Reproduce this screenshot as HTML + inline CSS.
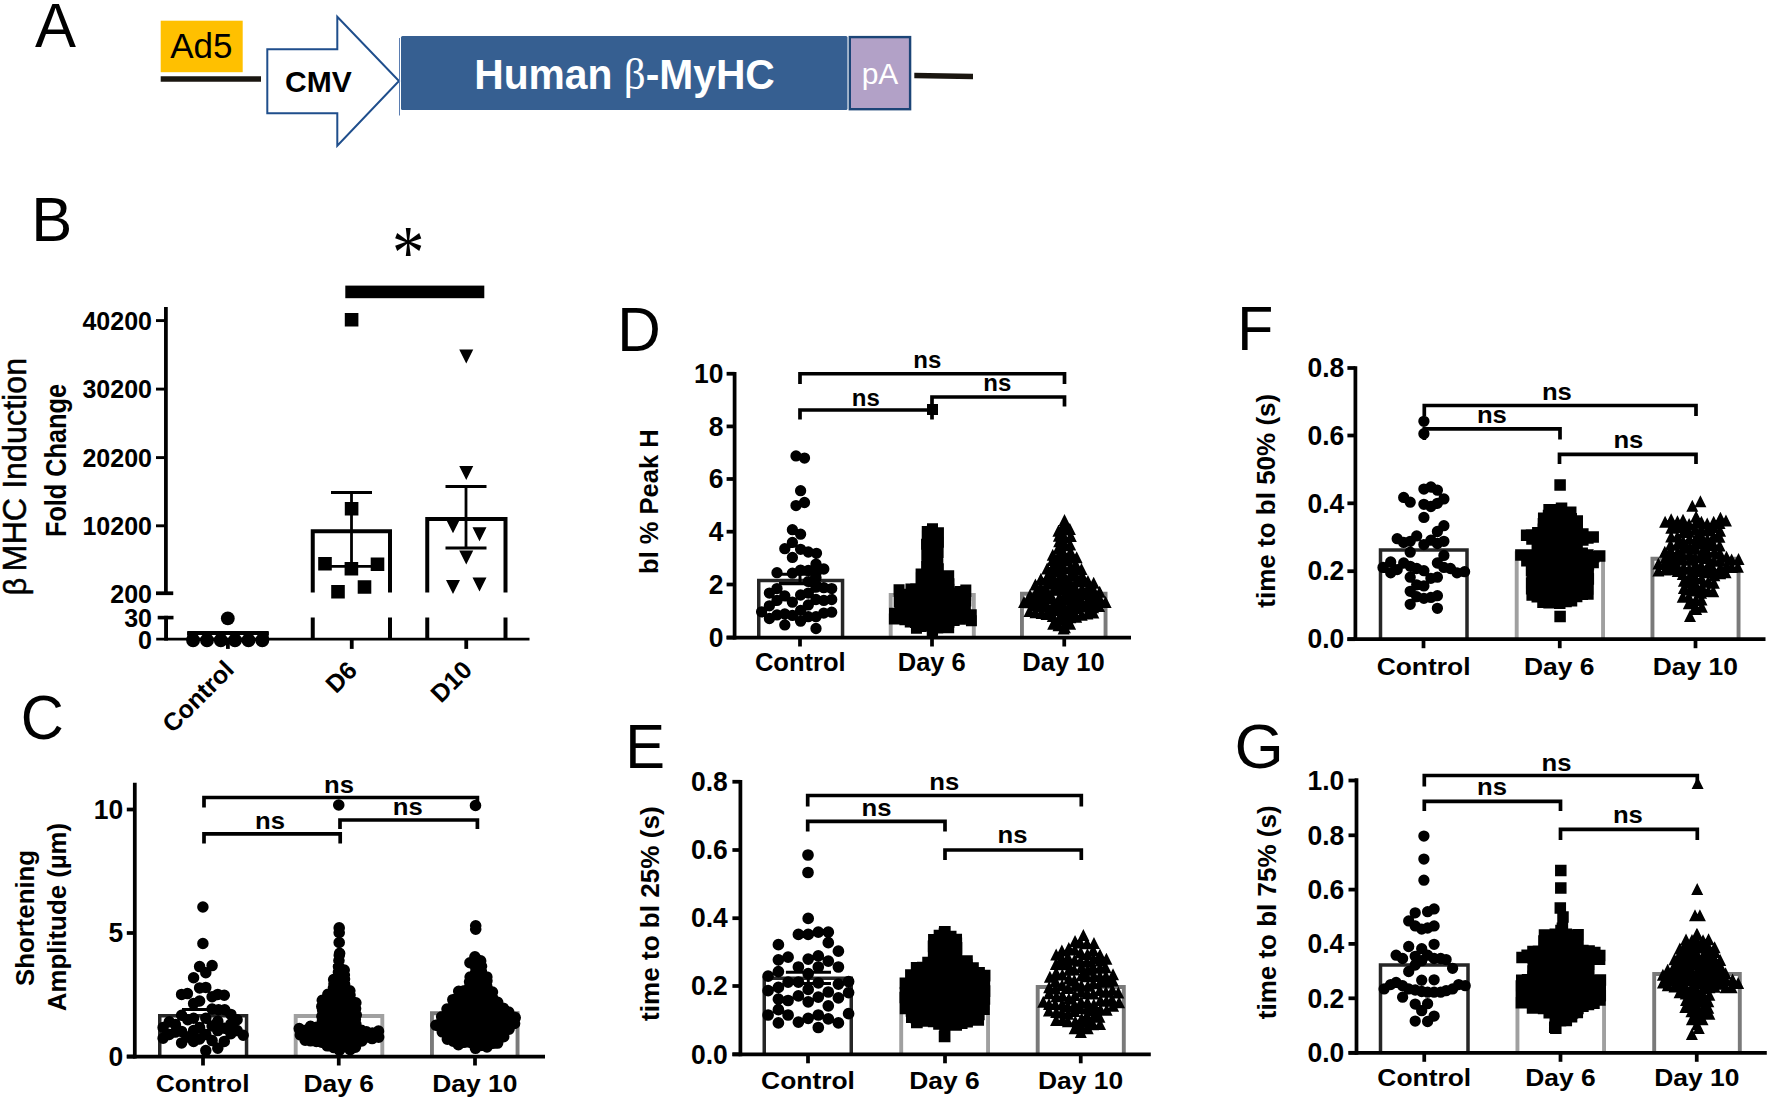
<!DOCTYPE html>
<html lang="en"><head><meta charset="utf-8"><title>Figure</title>
<style>html,body{margin:0;padding:0;background:#fff}svg{display:block}</style></head>
<body>
<svg width="1770" height="1103" viewBox="0 0 1770 1103" font-family="'Liberation Sans', Arial, sans-serif" fill="#000">
<rect x="0" y="0" width="1770" height="1103" fill="#fff"/>
<text x="0" y="0" font-size="61.5" transform="translate(35 47.2) scale(1.0000 1.0350)">A</text>
<text x="0" y="0" font-size="61.5" transform="translate(31.3 241.3) scale(1.0000 1.0350)">B</text>
<text x="0" y="0" font-size="61.5" transform="translate(20.7 739.3) scale(0.9700 1.0350)">C</text>
<text x="0" y="0" font-size="61.5" transform="translate(617.2 350.75) scale(0.9800 1.0350)">D</text>
<text x="0" y="0" font-size="61.5" transform="translate(625.2 768.25) scale(0.9700 1.0350)">E</text>
<text x="0" y="0" font-size="61.5" transform="translate(1237.2 350) scale(0.9600 1.0350)">F</text>
<text x="0" y="0" font-size="61.5" transform="translate(1234.5 767.5) scale(1.0300 1.0350)">G</text>
<rect x="160.7" y="20.7" width="82" height="51.5" fill="#FFC000"/>
<text x="201.3" y="58.3" font-size="35" text-anchor="middle">Ad5</text>
<line x1="160.7" y1="79" x2="261" y2="79" stroke="#1a1610" stroke-width="5.6"/>
<path d="M267.3 49.3H337.3V16.7L399 81L337.3 145.7V113.3H267.3Z" fill="#fff" stroke="#1F4E8C" stroke-width="2" stroke-linejoin="miter"/>
<text x="318.4" y="91.7" font-size="30" font-weight="bold" text-anchor="middle">CMV</text>
<line x1="399.5" y1="38" x2="399.5" y2="115.5" stroke="#5b7db1" stroke-width="1"/>
<rect x="401" y="36" width="446.5" height="74" rx="1.5" fill="#365F91"/>
<rect x="849.8" y="37.1" width="60.3" height="72.1" fill="#B2A1C7" stroke="#1c4577" stroke-width="2.4"/>
<text x="0" y="0" font-size="40.8" font-weight="bold" text-anchor="middle" fill="#fff" transform="translate(624.5 89.3) scale(1.0000 1.0300)">Human <tspan font-family="'Liberation Serif', serif" font-weight="normal" font-size="43">β</tspan>-MyHC</text>
<text x="880" y="83.9" font-size="30" text-anchor="middle" fill="#fff">pA</text>
<path d="M914.3 72.8L973 73.7V79.2L914.3 78.3Z" fill="#1a1610"/>
<line x1="165.9" y1="307" x2="165.9" y2="595.1" stroke="#000" stroke-width="3.75"/>
<line x1="156" y1="320.6" x2="165.9" y2="320.6" stroke="#000" stroke-width="2.9"/>
<text x="152" y="329.7" font-size="25" font-weight="bold" text-anchor="end">40200</text>
<line x1="156" y1="389.1" x2="165.9" y2="389.1" stroke="#000" stroke-width="2.9"/>
<text x="152" y="398.2" font-size="25" font-weight="bold" text-anchor="end">30200</text>
<line x1="156" y1="457.6" x2="165.9" y2="457.6" stroke="#000" stroke-width="2.9"/>
<text x="152" y="466.7" font-size="25" font-weight="bold" text-anchor="end">20200</text>
<line x1="156" y1="525.8" x2="165.9" y2="525.8" stroke="#000" stroke-width="2.9"/>
<text x="152" y="534.9" font-size="25" font-weight="bold" text-anchor="end">10200</text>
<line x1="156" y1="593.25" x2="173.25" y2="593.25" stroke="#000" stroke-width="3.75"/>
<text x="152" y="602.95" font-size="25" font-weight="bold" text-anchor="end">200</text>
<line x1="166.05" y1="615.8" x2="166.05" y2="640.6" stroke="#000" stroke-width="3.9"/>
<line x1="157.7" y1="617.6" x2="173.5" y2="617.6" stroke="#000" stroke-width="3.6"/>
<text x="152" y="627.4" font-size="25" font-weight="bold" text-anchor="end">30</text>
<line x1="156.2" y1="639.2" x2="529.5" y2="639.2" stroke="#000" stroke-width="2.8"/>
<text x="152" y="648.7" font-size="25" font-weight="bold" text-anchor="end">0</text>
<text x="26.3" y="595.2" font-size="30.5" transform="rotate(-90 26.3 595.2)" stroke="#000" stroke-width="0.5">β</text>
<text x="26.3" y="357.8" font-size="32.3" text-anchor="end" transform="rotate(-90 26.3 357.8)" stroke="#000" stroke-width="0.5">MHC Induction</text>
<text x="0" y="0" font-size="25.3" font-weight="bold" text-anchor="middle" transform="translate(65.5 460.5) rotate(-90) scale(1.0000 1.1400)">Fold Change</text>
<line x1="227.9" y1="639.2" x2="227.9" y2="648.9" stroke="#000" stroke-width="3.8"/>
<text x="235.5" y="671.2" font-size="25" font-weight="bold" text-anchor="end" transform="rotate(-45 235.5 671.2)">Control</text>
<line x1="351.75" y1="639.2" x2="351.75" y2="648.9" stroke="#000" stroke-width="3.8"/>
<text x="358.5" y="672" font-size="25" font-weight="bold" text-anchor="end" transform="rotate(-45 358.5 672)">D6</text>
<line x1="466.25" y1="639.2" x2="466.25" y2="648.9" stroke="#000" stroke-width="3.8"/>
<text x="473.5" y="671.5" font-size="25" font-weight="bold" text-anchor="end" transform="rotate(-45 473.5 671.5)">D10</text>
<line x1="187.2" y1="633" x2="268.7" y2="633" stroke="#000" stroke-width="4"/>
<line x1="188.2" y1="632" x2="188.2" y2="639" stroke="#000" stroke-width="2"/>
<line x1="267.7" y1="632" x2="267.7" y2="639" stroke="#000" stroke-width="2"/>
<path d="M186.1 640.3a7 7 0 1 0 14 0a7 7 0 1 0 -14 0zM200 640.3a7 7 0 1 0 14 0a7 7 0 1 0 -14 0zM213.8 640.3a7 7 0 1 0 14 0a7 7 0 1 0 -14 0zM228 640.3a7 7 0 1 0 14 0a7 7 0 1 0 -14 0zM241.5 640.3a7 7 0 1 0 14 0a7 7 0 1 0 -14 0zM255.3 640.3a7 7 0 1 0 14 0a7 7 0 1 0 -14 0z" fill="#000"/>
<path d="M220.9 618.4a6.9 6.9 0 1 0 13.8 0a6.9 6.9 0 1 0 -13.8 0z" fill="#000"/>
<path d="M312.75 592.5V531.25H390V592.5" fill="none" stroke="#000" stroke-width="4" stroke-linejoin="miter"/>
<line x1="312.75" y1="617.5" x2="312.75" y2="639.2" stroke="#000" stroke-width="4"/>
<line x1="390" y1="617.5" x2="390" y2="639.2" stroke="#000" stroke-width="4"/>
<path d="M427.25 592.5V519H505.5V592.5" fill="none" stroke="#000" stroke-width="4" stroke-linejoin="miter"/>
<line x1="427.25" y1="617.5" x2="427.25" y2="639.2" stroke="#000" stroke-width="4"/>
<line x1="505.5" y1="617.5" x2="505.5" y2="639.2" stroke="#000" stroke-width="4"/>
<line x1="351.5" y1="492.5" x2="351.5" y2="566.3" stroke="#000" stroke-width="2.8"/>
<line x1="331" y1="492.5" x2="372" y2="492.5" stroke="#000" stroke-width="2.8"/>
<line x1="331" y1="566.3" x2="372" y2="566.3" stroke="#000" stroke-width="2.8"/>
<line x1="466" y1="486.5" x2="466" y2="548" stroke="#000" stroke-width="2.8"/>
<line x1="445.5" y1="486.5" x2="486.5" y2="486.5" stroke="#000" stroke-width="2.8"/>
<line x1="445.5" y1="548" x2="486.5" y2="548" stroke="#000" stroke-width="2.8"/>
<path d="M344.8 312.9h13.6v13.6h-13.6zM344.8 502h13.6v13.6h-13.6zM318.2 557h13.6v13.6h-13.6zM344.6 562h13.6v13.6h-13.6zM370.7 557.5h13.6v13.6h-13.6zM331.2 585h13.6v13.6h-13.6zM357.7 580.2h13.6v13.6h-13.6z" fill="#000"/>
<path d="M459.25 349.6L473.25 349.6L466.25 363.6zM459.25 466L473.25 466L466.25 480zM446 519.3L460 519.3L453 533.3zM472.5 527.3L486.5 527.3L479.5 541.3zM459.25 550.5L473.25 550.5L466.25 564.5zM446 580L460 580L453 594zM472.5 577.5L486.5 577.5L479.5 591.5z" fill="#000"/>
<rect x="345.3" y="285.6" width="139" height="12.6" fill="#000"/>
<text x="0" y="0" font-size="64.75" font-family="'Liberation Serif', serif" transform="translate(392 278.2) scale(1.0000 1.1850)">*</text>
<path d="M159.75 1056.5V1015.75H246.55V1056.5" fill="none" stroke="#262626" stroke-width="3.5" stroke-linejoin="miter"/>
<path d="M295.7 1056.5V1015.95H382.3V1056.5" fill="none" stroke="#a0a0a0" stroke-width="3.9" stroke-linejoin="miter"/>
<path d="M431.95 1056.5V1013.25H517.55V1056.5" fill="none" stroke="#7a7a7a" stroke-width="3.9" stroke-linejoin="miter"/>
<line x1="134.8" y1="782.8" x2="134.8" y2="1058.38" stroke="#000" stroke-width="3.75"/>
<line x1="126.8" y1="1056.5" x2="545" y2="1056.5" stroke="#000" stroke-width="3.75"/>
<line x1="126.8" y1="809.5" x2="134.8" y2="809.5" stroke="#000" stroke-width="3.75"/>
<text x="0" y="0" font-size="27" font-weight="bold" text-anchor="end" transform="translate(123.3 818.77) scale(0.9800 1.0000)">10</text>
<line x1="126.8" y1="933" x2="134.8" y2="933" stroke="#000" stroke-width="3.75"/>
<text x="0" y="0" font-size="27" font-weight="bold" text-anchor="end" transform="translate(123.3 942.27) scale(0.9800 1.0000)">5</text>
<line x1="126.8" y1="1056.5" x2="134.8" y2="1056.5" stroke="#000" stroke-width="3.75"/>
<text x="0" y="0" font-size="27" font-weight="bold" text-anchor="end" transform="translate(123.3 1065.77) scale(0.9800 1.0000)">0</text>
<line x1="203" y1="1056.5" x2="203" y2="1065.5" stroke="#000" stroke-width="3.75"/>
<text x="0" y="0" font-size="24.7" font-weight="bold" text-anchor="middle" transform="translate(202.6 1091.5) scale(1.0700 1.0000)">Control</text>
<line x1="338.75" y1="1056.5" x2="338.75" y2="1065.5" stroke="#000" stroke-width="3.75"/>
<text x="0" y="0" font-size="24.7" font-weight="bold" text-anchor="middle" transform="translate(338.75 1091.5) scale(1.0700 1.0000)">Day 6</text>
<line x1="475" y1="1056.5" x2="475" y2="1065.5" stroke="#000" stroke-width="3.75"/>
<text x="0" y="0" font-size="24.7" font-weight="bold" text-anchor="middle" transform="translate(474.75 1091.5) scale(1.0700 1.0000)">Day 10</text>
<text x="33.9" y="918" font-size="25.8" font-weight="bold" text-anchor="middle" transform="rotate(-90 33.9 918)">Shortening</text>
<text x="65.5" y="917" font-size="25.8" font-weight="bold" text-anchor="middle" transform="rotate(-90 65.5 917)">Amplitude (µm)</text>
<path d="M204 807.5V797.5H477.4V807" fill="none" stroke="#000" stroke-width="3.7" stroke-linejoin="miter"/>
<text x="0" y="0" font-size="24" font-weight="bold" text-anchor="middle" transform="translate(339 792.5) scale(1.0700 1.0000)">ns</text>
<path d="M204 843.5V833.8H340.2V843.5" fill="none" stroke="#000" stroke-width="3.7" stroke-linejoin="miter"/>
<text x="0" y="0" font-size="24" font-weight="bold" text-anchor="middle" transform="translate(270 828.8) scale(1.0700 1.0000)">ns</text>
<path d="M340 829V820H477.4V829" fill="none" stroke="#000" stroke-width="3.7" stroke-linejoin="miter"/>
<text x="0" y="0" font-size="24" font-weight="bold" text-anchor="middle" transform="translate(407.7 814.5) scale(1.0700 1.0000)">ns</text>
<line x1="182" y1="1009.6" x2="224" y2="1009.6" stroke="#000" stroke-width="3"/>
<path d="M197.15 907a5.75 5.75 0 1 0 11.5 0a5.75 5.75 0 1 0 -11.5 0zM197.15 943.5a5.75 5.75 0 1 0 11.5 0a5.75 5.75 0 1 0 -11.5 0zM193.85 966.6a5.75 5.75 0 1 0 11.5 0a5.75 5.75 0 1 0 -11.5 0zM206.35 965.6a5.75 5.75 0 1 0 11.5 0a5.75 5.75 0 1 0 -11.5 0zM200.05 972.8a5.75 5.75 0 1 0 11.5 0a5.75 5.75 0 1 0 -11.5 0zM187.85 977.7a5.75 5.75 0 1 0 11.5 0a5.75 5.75 0 1 0 -11.5 0zM193.85 987.9a5.75 5.75 0 1 0 11.5 0a5.75 5.75 0 1 0 -11.5 0zM200.05 987.4a5.75 5.75 0 1 0 11.5 0a5.75 5.75 0 1 0 -11.5 0zM175.85 994.4a5.75 5.75 0 1 0 11.5 0a5.75 5.75 0 1 0 -11.5 0zM181.65 993.6a5.75 5.75 0 1 0 11.5 0a5.75 5.75 0 1 0 -11.5 0zM206.35 996.7a5.75 5.75 0 1 0 11.5 0a5.75 5.75 0 1 0 -11.5 0zM212.05 994.4a5.75 5.75 0 1 0 11.5 0a5.75 5.75 0 1 0 -11.5 0zM218.55 995.2a5.75 5.75 0 1 0 11.5 0a5.75 5.75 0 1 0 -11.5 0zM187.85 1003.6a5.75 5.75 0 1 0 11.5 0a5.75 5.75 0 1 0 -11.5 0zM193.85 1001a5.75 5.75 0 1 0 11.5 0a5.75 5.75 0 1 0 -11.5 0zM206.35 1009a5.75 5.75 0 1 0 11.5 0a5.75 5.75 0 1 0 -11.5 0zM212.85 1009.8a5.75 5.75 0 1 0 11.5 0a5.75 5.75 0 1 0 -11.5 0zM218.95 1009.8a5.75 5.75 0 1 0 11.5 0a5.75 5.75 0 1 0 -11.5 0zM175.85 1015.2a5.75 5.75 0 1 0 11.5 0a5.75 5.75 0 1 0 -11.5 0zM225.15 1014.4a5.75 5.75 0 1 0 11.5 0a5.75 5.75 0 1 0 -11.5 0zM231.35 1019.8a5.75 5.75 0 1 0 11.5 0a5.75 5.75 0 1 0 -11.5 0zM163.55 1021.7a5.75 5.75 0 1 0 11.5 0a5.75 5.75 0 1 0 -11.5 0zM182.05 1019.8a5.75 5.75 0 1 0 11.5 0a5.75 5.75 0 1 0 -11.5 0zM187.85 1018.3a5.75 5.75 0 1 0 11.5 0a5.75 5.75 0 1 0 -11.5 0zM200.05 1018.3a5.75 5.75 0 1 0 11.5 0a5.75 5.75 0 1 0 -11.5 0zM212.05 1021.3a5.75 5.75 0 1 0 11.5 0a5.75 5.75 0 1 0 -11.5 0zM157.35 1027.5a5.75 5.75 0 1 0 11.5 0a5.75 5.75 0 1 0 -11.5 0zM193.85 1027.5a5.75 5.75 0 1 0 11.5 0a5.75 5.75 0 1 0 -11.5 0zM206.35 1026a5.75 5.75 0 1 0 11.5 0a5.75 5.75 0 1 0 -11.5 0zM218.55 1028.3a5.75 5.75 0 1 0 11.5 0a5.75 5.75 0 1 0 -11.5 0zM231.35 1030.6a5.75 5.75 0 1 0 11.5 0a5.75 5.75 0 1 0 -11.5 0zM169.65 1032.1a5.75 5.75 0 1 0 11.5 0a5.75 5.75 0 1 0 -11.5 0zM175.85 1031.4a5.75 5.75 0 1 0 11.5 0a5.75 5.75 0 1 0 -11.5 0zM187.85 1030.6a5.75 5.75 0 1 0 11.5 0a5.75 5.75 0 1 0 -11.5 0zM212.05 1030.6a5.75 5.75 0 1 0 11.5 0a5.75 5.75 0 1 0 -11.5 0zM225.15 1033.7a5.75 5.75 0 1 0 11.5 0a5.75 5.75 0 1 0 -11.5 0zM237.45 1035.2a5.75 5.75 0 1 0 11.5 0a5.75 5.75 0 1 0 -11.5 0zM157.35 1038.3a5.75 5.75 0 1 0 11.5 0a5.75 5.75 0 1 0 -11.5 0zM193.85 1039a5.75 5.75 0 1 0 11.5 0a5.75 5.75 0 1 0 -11.5 0zM206.35 1040.6a5.75 5.75 0 1 0 11.5 0a5.75 5.75 0 1 0 -11.5 0zM218.55 1041.4a5.75 5.75 0 1 0 11.5 0a5.75 5.75 0 1 0 -11.5 0zM175.85 1042.9a5.75 5.75 0 1 0 11.5 0a5.75 5.75 0 1 0 -11.5 0zM187.85 1041.4a5.75 5.75 0 1 0 11.5 0a5.75 5.75 0 1 0 -11.5 0zM163.55 1034.5a5.75 5.75 0 1 0 11.5 0a5.75 5.75 0 1 0 -11.5 0zM200.05 1034.5a5.75 5.75 0 1 0 11.5 0a5.75 5.75 0 1 0 -11.5 0zM181.85 1037a5.75 5.75 0 1 0 11.5 0a5.75 5.75 0 1 0 -11.5 0zM225.15 1024a5.75 5.75 0 1 0 11.5 0a5.75 5.75 0 1 0 -11.5 0zM169.65 1024.5a5.75 5.75 0 1 0 11.5 0a5.75 5.75 0 1 0 -11.5 0zM212.05 1048.3a5.75 5.75 0 1 0 11.5 0a5.75 5.75 0 1 0 -11.5 0zM200.05 1050.6a5.75 5.75 0 1 0 11.5 0a5.75 5.75 0 1 0 -11.5 0z" fill="#000"/>
<path d="M332.95 805a5.8 5.8 0 1 0 11.6 0a5.8 5.8 0 1 0 -11.6 0zM333.4 927.9a5.8 5.8 0 1 0 11.6 0a5.8 5.8 0 1 0 -11.6 0zM333.4 932.7a5.8 5.8 0 1 0 11.6 0a5.8 5.8 0 1 0 -11.6 0zM333.4 942.5a5.8 5.8 0 1 0 11.6 0a5.8 5.8 0 1 0 -11.6 0zM293.45 1028.53a5.8 5.8 0 1 0 11.6 0a5.8 5.8 0 1 0 -11.6 0zM294.56 1034.98a5.8 5.8 0 1 0 11.6 0a5.8 5.8 0 1 0 -11.6 0zM300.01 1030.4a5.8 5.8 0 1 0 11.6 0a5.8 5.8 0 1 0 -11.6 0zM299.38 1036.02a5.8 5.8 0 1 0 11.6 0a5.8 5.8 0 1 0 -11.6 0zM299.35 1040.21a5.8 5.8 0 1 0 11.6 0a5.8 5.8 0 1 0 -11.6 0zM304.7 1026.27a5.8 5.8 0 1 0 11.6 0a5.8 5.8 0 1 0 -11.6 0zM305.76 1030.76a5.8 5.8 0 1 0 11.6 0a5.8 5.8 0 1 0 -11.6 0zM304.74 1036.54a5.8 5.8 0 1 0 11.6 0a5.8 5.8 0 1 0 -11.6 0zM304.72 1040.78a5.8 5.8 0 1 0 11.6 0a5.8 5.8 0 1 0 -11.6 0zM310.67 1027.38a5.8 5.8 0 1 0 11.6 0a5.8 5.8 0 1 0 -11.6 0zM310.97 1033.45a5.8 5.8 0 1 0 11.6 0a5.8 5.8 0 1 0 -11.6 0zM311.39 1037.25a5.8 5.8 0 1 0 11.6 0a5.8 5.8 0 1 0 -11.6 0zM310.51 1041.39a5.8 5.8 0 1 0 11.6 0a5.8 5.8 0 1 0 -11.6 0zM316.49 1000.36a5.8 5.8 0 1 0 11.6 0a5.8 5.8 0 1 0 -11.6 0zM316.02 1006.46a5.8 5.8 0 1 0 11.6 0a5.8 5.8 0 1 0 -11.6 0zM316.89 1010.42a5.8 5.8 0 1 0 11.6 0a5.8 5.8 0 1 0 -11.6 0zM316.1 1016.37a5.8 5.8 0 1 0 11.6 0a5.8 5.8 0 1 0 -11.6 0zM316.69 1020.44a5.8 5.8 0 1 0 11.6 0a5.8 5.8 0 1 0 -11.6 0zM316.04 1026.76a5.8 5.8 0 1 0 11.6 0a5.8 5.8 0 1 0 -11.6 0zM316.86 1033.11a5.8 5.8 0 1 0 11.6 0a5.8 5.8 0 1 0 -11.6 0zM316.31 1038.42a5.8 5.8 0 1 0 11.6 0a5.8 5.8 0 1 0 -11.6 0zM315.85 1042.24a5.8 5.8 0 1 0 11.6 0a5.8 5.8 0 1 0 -11.6 0zM322.07 994.31a5.8 5.8 0 1 0 11.6 0a5.8 5.8 0 1 0 -11.6 0zM322.14 1000.37a5.8 5.8 0 1 0 11.6 0a5.8 5.8 0 1 0 -11.6 0zM322.5 1004.71a5.8 5.8 0 1 0 11.6 0a5.8 5.8 0 1 0 -11.6 0zM321.42 1008.82a5.8 5.8 0 1 0 11.6 0a5.8 5.8 0 1 0 -11.6 0zM321.93 1013.13a5.8 5.8 0 1 0 11.6 0a5.8 5.8 0 1 0 -11.6 0zM321.61 1016.81a5.8 5.8 0 1 0 11.6 0a5.8 5.8 0 1 0 -11.6 0zM322.09 1021.42a5.8 5.8 0 1 0 11.6 0a5.8 5.8 0 1 0 -11.6 0zM321.83 1025.31a5.8 5.8 0 1 0 11.6 0a5.8 5.8 0 1 0 -11.6 0zM322.58 1031.49a5.8 5.8 0 1 0 11.6 0a5.8 5.8 0 1 0 -11.6 0zM322.23 1036.96a5.8 5.8 0 1 0 11.6 0a5.8 5.8 0 1 0 -11.6 0zM321.57 1042.21a5.8 5.8 0 1 0 11.6 0a5.8 5.8 0 1 0 -11.6 0zM321.42 1045.82a5.8 5.8 0 1 0 11.6 0a5.8 5.8 0 1 0 -11.6 0zM327.88 979.61a5.8 5.8 0 1 0 11.6 0a5.8 5.8 0 1 0 -11.6 0zM328.2 984.07a5.8 5.8 0 1 0 11.6 0a5.8 5.8 0 1 0 -11.6 0zM327.66 987.79a5.8 5.8 0 1 0 11.6 0a5.8 5.8 0 1 0 -11.6 0zM328.08 993.51a5.8 5.8 0 1 0 11.6 0a5.8 5.8 0 1 0 -11.6 0zM327.84 999.22a5.8 5.8 0 1 0 11.6 0a5.8 5.8 0 1 0 -11.6 0zM328.1 1005.1a5.8 5.8 0 1 0 11.6 0a5.8 5.8 0 1 0 -11.6 0zM327.82 1009.65a5.8 5.8 0 1 0 11.6 0a5.8 5.8 0 1 0 -11.6 0zM328.05 1015.85a5.8 5.8 0 1 0 11.6 0a5.8 5.8 0 1 0 -11.6 0zM327.95 1020.61a5.8 5.8 0 1 0 11.6 0a5.8 5.8 0 1 0 -11.6 0zM327.69 1026.7a5.8 5.8 0 1 0 11.6 0a5.8 5.8 0 1 0 -11.6 0zM327.46 1032.07a5.8 5.8 0 1 0 11.6 0a5.8 5.8 0 1 0 -11.6 0zM327.73 1037.32a5.8 5.8 0 1 0 11.6 0a5.8 5.8 0 1 0 -11.6 0zM327.77 1041.06a5.8 5.8 0 1 0 11.6 0a5.8 5.8 0 1 0 -11.6 0zM328.06 1047.54a5.8 5.8 0 1 0 11.6 0a5.8 5.8 0 1 0 -11.6 0zM333.48 955.24a5.8 5.8 0 1 0 11.6 0a5.8 5.8 0 1 0 -11.6 0zM333.13 960.49a5.8 5.8 0 1 0 11.6 0a5.8 5.8 0 1 0 -11.6 0zM332.7 966.5a5.8 5.8 0 1 0 11.6 0a5.8 5.8 0 1 0 -11.6 0zM332.64 972.25a5.8 5.8 0 1 0 11.6 0a5.8 5.8 0 1 0 -11.6 0zM333.18 977.55a5.8 5.8 0 1 0 11.6 0a5.8 5.8 0 1 0 -11.6 0zM333.44 981.75a5.8 5.8 0 1 0 11.6 0a5.8 5.8 0 1 0 -11.6 0zM333.34 986.74a5.8 5.8 0 1 0 11.6 0a5.8 5.8 0 1 0 -11.6 0zM332.91 993a5.8 5.8 0 1 0 11.6 0a5.8 5.8 0 1 0 -11.6 0zM332.96 996.53a5.8 5.8 0 1 0 11.6 0a5.8 5.8 0 1 0 -11.6 0zM332.84 1002.07a5.8 5.8 0 1 0 11.6 0a5.8 5.8 0 1 0 -11.6 0zM333.69 1006.08a5.8 5.8 0 1 0 11.6 0a5.8 5.8 0 1 0 -11.6 0zM333.13 1011.56a5.8 5.8 0 1 0 11.6 0a5.8 5.8 0 1 0 -11.6 0zM332.99 1017.73a5.8 5.8 0 1 0 11.6 0a5.8 5.8 0 1 0 -11.6 0zM332.84 1023.23a5.8 5.8 0 1 0 11.6 0a5.8 5.8 0 1 0 -11.6 0zM333.57 1028.02a5.8 5.8 0 1 0 11.6 0a5.8 5.8 0 1 0 -11.6 0zM333.66 1034.26a5.8 5.8 0 1 0 11.6 0a5.8 5.8 0 1 0 -11.6 0zM333.3 1038.92a5.8 5.8 0 1 0 11.6 0a5.8 5.8 0 1 0 -11.6 0zM332.76 1043.37a5.8 5.8 0 1 0 11.6 0a5.8 5.8 0 1 0 -11.6 0zM333.6 1048.36a5.8 5.8 0 1 0 11.6 0a5.8 5.8 0 1 0 -11.6 0zM338.4 970.04a5.8 5.8 0 1 0 11.6 0a5.8 5.8 0 1 0 -11.6 0zM338.53 974.89a5.8 5.8 0 1 0 11.6 0a5.8 5.8 0 1 0 -11.6 0zM338.7 979.03a5.8 5.8 0 1 0 11.6 0a5.8 5.8 0 1 0 -11.6 0zM338.79 984.41a5.8 5.8 0 1 0 11.6 0a5.8 5.8 0 1 0 -11.6 0zM339.21 988.85a5.8 5.8 0 1 0 11.6 0a5.8 5.8 0 1 0 -11.6 0zM338.74 995.3a5.8 5.8 0 1 0 11.6 0a5.8 5.8 0 1 0 -11.6 0zM338.24 999.02a5.8 5.8 0 1 0 11.6 0a5.8 5.8 0 1 0 -11.6 0zM338.25 1005.14a5.8 5.8 0 1 0 11.6 0a5.8 5.8 0 1 0 -11.6 0zM338.88 1010.77a5.8 5.8 0 1 0 11.6 0a5.8 5.8 0 1 0 -11.6 0zM339.15 1015.2a5.8 5.8 0 1 0 11.6 0a5.8 5.8 0 1 0 -11.6 0zM338.36 1018.75a5.8 5.8 0 1 0 11.6 0a5.8 5.8 0 1 0 -11.6 0zM338.23 1023.62a5.8 5.8 0 1 0 11.6 0a5.8 5.8 0 1 0 -11.6 0zM338.48 1029.61a5.8 5.8 0 1 0 11.6 0a5.8 5.8 0 1 0 -11.6 0zM338.26 1033.53a5.8 5.8 0 1 0 11.6 0a5.8 5.8 0 1 0 -11.6 0zM338.74 1038.92a5.8 5.8 0 1 0 11.6 0a5.8 5.8 0 1 0 -11.6 0zM338.99 1044.31a5.8 5.8 0 1 0 11.6 0a5.8 5.8 0 1 0 -11.6 0zM344.01 990.8a5.8 5.8 0 1 0 11.6 0a5.8 5.8 0 1 0 -11.6 0zM344.21 995.11a5.8 5.8 0 1 0 11.6 0a5.8 5.8 0 1 0 -11.6 0zM344.42 1000.71a5.8 5.8 0 1 0 11.6 0a5.8 5.8 0 1 0 -11.6 0zM344.71 1006.05a5.8 5.8 0 1 0 11.6 0a5.8 5.8 0 1 0 -11.6 0zM344.75 1010.73a5.8 5.8 0 1 0 11.6 0a5.8 5.8 0 1 0 -11.6 0zM343.9 1016.95a5.8 5.8 0 1 0 11.6 0a5.8 5.8 0 1 0 -11.6 0zM344.67 1023.25a5.8 5.8 0 1 0 11.6 0a5.8 5.8 0 1 0 -11.6 0zM344.34 1027.14a5.8 5.8 0 1 0 11.6 0a5.8 5.8 0 1 0 -11.6 0zM344.89 1032.51a5.8 5.8 0 1 0 11.6 0a5.8 5.8 0 1 0 -11.6 0zM344.48 1037.14a5.8 5.8 0 1 0 11.6 0a5.8 5.8 0 1 0 -11.6 0zM344.76 1043.28a5.8 5.8 0 1 0 11.6 0a5.8 5.8 0 1 0 -11.6 0zM344.36 1049.61a5.8 5.8 0 1 0 11.6 0a5.8 5.8 0 1 0 -11.6 0zM350.04 1002.74a5.8 5.8 0 1 0 11.6 0a5.8 5.8 0 1 0 -11.6 0zM349.78 1008.61a5.8 5.8 0 1 0 11.6 0a5.8 5.8 0 1 0 -11.6 0zM350.43 1014.84a5.8 5.8 0 1 0 11.6 0a5.8 5.8 0 1 0 -11.6 0zM349.5 1019.38a5.8 5.8 0 1 0 11.6 0a5.8 5.8 0 1 0 -11.6 0zM350.06 1024.21a5.8 5.8 0 1 0 11.6 0a5.8 5.8 0 1 0 -11.6 0zM349.98 1030.01a5.8 5.8 0 1 0 11.6 0a5.8 5.8 0 1 0 -11.6 0zM350.37 1033.6a5.8 5.8 0 1 0 11.6 0a5.8 5.8 0 1 0 -11.6 0zM350.36 1037.29a5.8 5.8 0 1 0 11.6 0a5.8 5.8 0 1 0 -11.6 0zM349.8 1041.31a5.8 5.8 0 1 0 11.6 0a5.8 5.8 0 1 0 -11.6 0zM349.57 1047.17a5.8 5.8 0 1 0 11.6 0a5.8 5.8 0 1 0 -11.6 0zM355.67 1030.38a5.8 5.8 0 1 0 11.6 0a5.8 5.8 0 1 0 -11.6 0zM355.46 1034.81a5.8 5.8 0 1 0 11.6 0a5.8 5.8 0 1 0 -11.6 0zM356.08 1040.85a5.8 5.8 0 1 0 11.6 0a5.8 5.8 0 1 0 -11.6 0zM360.68 1031.85a5.8 5.8 0 1 0 11.6 0a5.8 5.8 0 1 0 -11.6 0zM361.1 1036.96a5.8 5.8 0 1 0 11.6 0a5.8 5.8 0 1 0 -11.6 0zM366.63 1033.17a5.8 5.8 0 1 0 11.6 0a5.8 5.8 0 1 0 -11.6 0zM366.33 1038.53a5.8 5.8 0 1 0 11.6 0a5.8 5.8 0 1 0 -11.6 0zM372.69 1031.15a5.8 5.8 0 1 0 11.6 0a5.8 5.8 0 1 0 -11.6 0zM372.88 1037.08a5.8 5.8 0 1 0 11.6 0a5.8 5.8 0 1 0 -11.6 0zM333.82 953.3a5.8 5.8 0 1 0 11.6 0a5.8 5.8 0 1 0 -11.6 0zM333.64 1050.2a5.8 5.8 0 1 0 11.6 0a5.8 5.8 0 1 0 -11.6 0z" fill="#000"/>
<path d="M469.7 805.5a5.8 5.8 0 1 0 11.6 0a5.8 5.8 0 1 0 -11.6 0zM469.9 925.8a5.8 5.8 0 1 0 11.6 0a5.8 5.8 0 1 0 -11.6 0zM469.9 929.2a5.8 5.8 0 1 0 11.6 0a5.8 5.8 0 1 0 -11.6 0zM430.09 1025.27a5.8 5.8 0 1 0 11.6 0a5.8 5.8 0 1 0 -11.6 0zM435.88 1016.82a5.8 5.8 0 1 0 11.6 0a5.8 5.8 0 1 0 -11.6 0zM435.7 1022.19a5.8 5.8 0 1 0 11.6 0a5.8 5.8 0 1 0 -11.6 0zM435.56 1027.78a5.8 5.8 0 1 0 11.6 0a5.8 5.8 0 1 0 -11.6 0zM436.48 1031.79a5.8 5.8 0 1 0 11.6 0a5.8 5.8 0 1 0 -11.6 0zM441.24 1009.07a5.8 5.8 0 1 0 11.6 0a5.8 5.8 0 1 0 -11.6 0zM441.54 1013.27a5.8 5.8 0 1 0 11.6 0a5.8 5.8 0 1 0 -11.6 0zM442.07 1018.3a5.8 5.8 0 1 0 11.6 0a5.8 5.8 0 1 0 -11.6 0zM441.13 1023.3a5.8 5.8 0 1 0 11.6 0a5.8 5.8 0 1 0 -11.6 0zM441.62 1029.27a5.8 5.8 0 1 0 11.6 0a5.8 5.8 0 1 0 -11.6 0zM441.37 1034.33a5.8 5.8 0 1 0 11.6 0a5.8 5.8 0 1 0 -11.6 0zM441.57 1039.11a5.8 5.8 0 1 0 11.6 0a5.8 5.8 0 1 0 -11.6 0zM447.04 999.72a5.8 5.8 0 1 0 11.6 0a5.8 5.8 0 1 0 -11.6 0zM447.85 1004.64a5.8 5.8 0 1 0 11.6 0a5.8 5.8 0 1 0 -11.6 0zM447.85 1009.59a5.8 5.8 0 1 0 11.6 0a5.8 5.8 0 1 0 -11.6 0zM447.81 1013.59a5.8 5.8 0 1 0 11.6 0a5.8 5.8 0 1 0 -11.6 0zM446.93 1018.18a5.8 5.8 0 1 0 11.6 0a5.8 5.8 0 1 0 -11.6 0zM447.79 1023.93a5.8 5.8 0 1 0 11.6 0a5.8 5.8 0 1 0 -11.6 0zM447.02 1027.45a5.8 5.8 0 1 0 11.6 0a5.8 5.8 0 1 0 -11.6 0zM447.11 1033.26a5.8 5.8 0 1 0 11.6 0a5.8 5.8 0 1 0 -11.6 0zM446.71 1037.49a5.8 5.8 0 1 0 11.6 0a5.8 5.8 0 1 0 -11.6 0zM447.44 1041.11a5.8 5.8 0 1 0 11.6 0a5.8 5.8 0 1 0 -11.6 0zM452.93 991.32a5.8 5.8 0 1 0 11.6 0a5.8 5.8 0 1 0 -11.6 0zM453.05 996.25a5.8 5.8 0 1 0 11.6 0a5.8 5.8 0 1 0 -11.6 0zM453.44 1000.54a5.8 5.8 0 1 0 11.6 0a5.8 5.8 0 1 0 -11.6 0zM452.49 1006.73a5.8 5.8 0 1 0 11.6 0a5.8 5.8 0 1 0 -11.6 0zM453.35 1011.1a5.8 5.8 0 1 0 11.6 0a5.8 5.8 0 1 0 -11.6 0zM453.43 1015.43a5.8 5.8 0 1 0 11.6 0a5.8 5.8 0 1 0 -11.6 0zM453.14 1020.48a5.8 5.8 0 1 0 11.6 0a5.8 5.8 0 1 0 -11.6 0zM452.56 1026.09a5.8 5.8 0 1 0 11.6 0a5.8 5.8 0 1 0 -11.6 0zM452.61 1030.45a5.8 5.8 0 1 0 11.6 0a5.8 5.8 0 1 0 -11.6 0zM453.13 1036a5.8 5.8 0 1 0 11.6 0a5.8 5.8 0 1 0 -11.6 0zM453.36 1039.89a5.8 5.8 0 1 0 11.6 0a5.8 5.8 0 1 0 -11.6 0zM452.59 1044.65a5.8 5.8 0 1 0 11.6 0a5.8 5.8 0 1 0 -11.6 0zM458.4 990.68a5.8 5.8 0 1 0 11.6 0a5.8 5.8 0 1 0 -11.6 0zM458.98 995.94a5.8 5.8 0 1 0 11.6 0a5.8 5.8 0 1 0 -11.6 0zM458.6 1001.81a5.8 5.8 0 1 0 11.6 0a5.8 5.8 0 1 0 -11.6 0zM458.34 1006.35a5.8 5.8 0 1 0 11.6 0a5.8 5.8 0 1 0 -11.6 0zM458.58 1012.06a5.8 5.8 0 1 0 11.6 0a5.8 5.8 0 1 0 -11.6 0zM458.75 1015.61a5.8 5.8 0 1 0 11.6 0a5.8 5.8 0 1 0 -11.6 0zM458.86 1021.82a5.8 5.8 0 1 0 11.6 0a5.8 5.8 0 1 0 -11.6 0zM458.99 1028.02a5.8 5.8 0 1 0 11.6 0a5.8 5.8 0 1 0 -11.6 0zM458.85 1033.12a5.8 5.8 0 1 0 11.6 0a5.8 5.8 0 1 0 -11.6 0zM458.02 1037.76a5.8 5.8 0 1 0 11.6 0a5.8 5.8 0 1 0 -11.6 0zM458.27 1042.32a5.8 5.8 0 1 0 11.6 0a5.8 5.8 0 1 0 -11.6 0zM464.15 962.75a5.8 5.8 0 1 0 11.6 0a5.8 5.8 0 1 0 -11.6 0zM464.34 977.09a5.8 5.8 0 1 0 11.6 0a5.8 5.8 0 1 0 -11.6 0zM463.79 981.77a5.8 5.8 0 1 0 11.6 0a5.8 5.8 0 1 0 -11.6 0zM463.89 986.49a5.8 5.8 0 1 0 11.6 0a5.8 5.8 0 1 0 -11.6 0zM463.67 992.05a5.8 5.8 0 1 0 11.6 0a5.8 5.8 0 1 0 -11.6 0zM463.87 995.82a5.8 5.8 0 1 0 11.6 0a5.8 5.8 0 1 0 -11.6 0zM464.41 1001.41a5.8 5.8 0 1 0 11.6 0a5.8 5.8 0 1 0 -11.6 0zM464.62 1006.88a5.8 5.8 0 1 0 11.6 0a5.8 5.8 0 1 0 -11.6 0zM463.54 1011.48a5.8 5.8 0 1 0 11.6 0a5.8 5.8 0 1 0 -11.6 0zM464.03 1016.45a5.8 5.8 0 1 0 11.6 0a5.8 5.8 0 1 0 -11.6 0zM464.3 1020.48a5.8 5.8 0 1 0 11.6 0a5.8 5.8 0 1 0 -11.6 0zM463.79 1025.01a5.8 5.8 0 1 0 11.6 0a5.8 5.8 0 1 0 -11.6 0zM464.63 1029.49a5.8 5.8 0 1 0 11.6 0a5.8 5.8 0 1 0 -11.6 0zM463.93 1033.01a5.8 5.8 0 1 0 11.6 0a5.8 5.8 0 1 0 -11.6 0zM463.74 1037.35a5.8 5.8 0 1 0 11.6 0a5.8 5.8 0 1 0 -11.6 0zM463.76 1042.15a5.8 5.8 0 1 0 11.6 0a5.8 5.8 0 1 0 -11.6 0zM469.94 959.31a5.8 5.8 0 1 0 11.6 0a5.8 5.8 0 1 0 -11.6 0zM469.66 963.29a5.8 5.8 0 1 0 11.6 0a5.8 5.8 0 1 0 -11.6 0zM470.11 968.61a5.8 5.8 0 1 0 11.6 0a5.8 5.8 0 1 0 -11.6 0zM469.65 972.86a5.8 5.8 0 1 0 11.6 0a5.8 5.8 0 1 0 -11.6 0zM470.1 978.93a5.8 5.8 0 1 0 11.6 0a5.8 5.8 0 1 0 -11.6 0zM469.75 983.11a5.8 5.8 0 1 0 11.6 0a5.8 5.8 0 1 0 -11.6 0zM469.57 988.89a5.8 5.8 0 1 0 11.6 0a5.8 5.8 0 1 0 -11.6 0zM469.9 994.41a5.8 5.8 0 1 0 11.6 0a5.8 5.8 0 1 0 -11.6 0zM469.76 1000.83a5.8 5.8 0 1 0 11.6 0a5.8 5.8 0 1 0 -11.6 0zM469.52 1006.37a5.8 5.8 0 1 0 11.6 0a5.8 5.8 0 1 0 -11.6 0zM469.49 1012.07a5.8 5.8 0 1 0 11.6 0a5.8 5.8 0 1 0 -11.6 0zM469.53 1017.07a5.8 5.8 0 1 0 11.6 0a5.8 5.8 0 1 0 -11.6 0zM469.26 1021.49a5.8 5.8 0 1 0 11.6 0a5.8 5.8 0 1 0 -11.6 0zM469.75 1025.67a5.8 5.8 0 1 0 11.6 0a5.8 5.8 0 1 0 -11.6 0zM469.16 1029.92a5.8 5.8 0 1 0 11.6 0a5.8 5.8 0 1 0 -11.6 0zM469.44 1035.83a5.8 5.8 0 1 0 11.6 0a5.8 5.8 0 1 0 -11.6 0zM469.82 1042.14a5.8 5.8 0 1 0 11.6 0a5.8 5.8 0 1 0 -11.6 0zM470.15 1046.81a5.8 5.8 0 1 0 11.6 0a5.8 5.8 0 1 0 -11.6 0zM474.85 960.9a5.8 5.8 0 1 0 11.6 0a5.8 5.8 0 1 0 -11.6 0zM475.71 966.33a5.8 5.8 0 1 0 11.6 0a5.8 5.8 0 1 0 -11.6 0zM475.64 971.65a5.8 5.8 0 1 0 11.6 0a5.8 5.8 0 1 0 -11.6 0zM475.44 976.39a5.8 5.8 0 1 0 11.6 0a5.8 5.8 0 1 0 -11.6 0zM475.19 980.68a5.8 5.8 0 1 0 11.6 0a5.8 5.8 0 1 0 -11.6 0zM475.16 985.32a5.8 5.8 0 1 0 11.6 0a5.8 5.8 0 1 0 -11.6 0zM475.67 990.02a5.8 5.8 0 1 0 11.6 0a5.8 5.8 0 1 0 -11.6 0zM474.95 994.03a5.8 5.8 0 1 0 11.6 0a5.8 5.8 0 1 0 -11.6 0zM475.87 998.29a5.8 5.8 0 1 0 11.6 0a5.8 5.8 0 1 0 -11.6 0zM474.76 1003.36a5.8 5.8 0 1 0 11.6 0a5.8 5.8 0 1 0 -11.6 0zM475.75 1009.37a5.8 5.8 0 1 0 11.6 0a5.8 5.8 0 1 0 -11.6 0zM475.13 1015.33a5.8 5.8 0 1 0 11.6 0a5.8 5.8 0 1 0 -11.6 0zM475.07 1021.03a5.8 5.8 0 1 0 11.6 0a5.8 5.8 0 1 0 -11.6 0zM475.74 1024.94a5.8 5.8 0 1 0 11.6 0a5.8 5.8 0 1 0 -11.6 0zM474.95 1030.94a5.8 5.8 0 1 0 11.6 0a5.8 5.8 0 1 0 -11.6 0zM474.73 1037.08a5.8 5.8 0 1 0 11.6 0a5.8 5.8 0 1 0 -11.6 0zM474.72 1041.51a5.8 5.8 0 1 0 11.6 0a5.8 5.8 0 1 0 -11.6 0zM474.9 1045.52a5.8 5.8 0 1 0 11.6 0a5.8 5.8 0 1 0 -11.6 0zM481.03 976.93a5.8 5.8 0 1 0 11.6 0a5.8 5.8 0 1 0 -11.6 0zM481.12 980.73a5.8 5.8 0 1 0 11.6 0a5.8 5.8 0 1 0 -11.6 0zM480.84 985.84a5.8 5.8 0 1 0 11.6 0a5.8 5.8 0 1 0 -11.6 0zM481.08 990.93a5.8 5.8 0 1 0 11.6 0a5.8 5.8 0 1 0 -11.6 0zM480.91 996.83a5.8 5.8 0 1 0 11.6 0a5.8 5.8 0 1 0 -11.6 0zM480.86 1002.23a5.8 5.8 0 1 0 11.6 0a5.8 5.8 0 1 0 -11.6 0zM480.77 1007.64a5.8 5.8 0 1 0 11.6 0a5.8 5.8 0 1 0 -11.6 0zM480.92 1012.38a5.8 5.8 0 1 0 11.6 0a5.8 5.8 0 1 0 -11.6 0zM480.63 1018.03a5.8 5.8 0 1 0 11.6 0a5.8 5.8 0 1 0 -11.6 0zM480.89 1024.3a5.8 5.8 0 1 0 11.6 0a5.8 5.8 0 1 0 -11.6 0zM481.13 1030.37a5.8 5.8 0 1 0 11.6 0a5.8 5.8 0 1 0 -11.6 0zM481.12 1036.74a5.8 5.8 0 1 0 11.6 0a5.8 5.8 0 1 0 -11.6 0zM480.79 1041.52a5.8 5.8 0 1 0 11.6 0a5.8 5.8 0 1 0 -11.6 0zM481.2 1046.84a5.8 5.8 0 1 0 11.6 0a5.8 5.8 0 1 0 -11.6 0zM486.64 992.05a5.8 5.8 0 1 0 11.6 0a5.8 5.8 0 1 0 -11.6 0zM487.05 998.45a5.8 5.8 0 1 0 11.6 0a5.8 5.8 0 1 0 -11.6 0zM487.04 1004.19a5.8 5.8 0 1 0 11.6 0a5.8 5.8 0 1 0 -11.6 0zM486.17 1007.77a5.8 5.8 0 1 0 11.6 0a5.8 5.8 0 1 0 -11.6 0zM486.47 1014.05a5.8 5.8 0 1 0 11.6 0a5.8 5.8 0 1 0 -11.6 0zM486.81 1018.17a5.8 5.8 0 1 0 11.6 0a5.8 5.8 0 1 0 -11.6 0zM486.55 1022.94a5.8 5.8 0 1 0 11.6 0a5.8 5.8 0 1 0 -11.6 0zM486.19 1027.39a5.8 5.8 0 1 0 11.6 0a5.8 5.8 0 1 0 -11.6 0zM486.63 1031.15a5.8 5.8 0 1 0 11.6 0a5.8 5.8 0 1 0 -11.6 0zM487.08 1037.51a5.8 5.8 0 1 0 11.6 0a5.8 5.8 0 1 0 -11.6 0zM487.02 1043.3a5.8 5.8 0 1 0 11.6 0a5.8 5.8 0 1 0 -11.6 0zM491.91 1002.34a5.8 5.8 0 1 0 11.6 0a5.8 5.8 0 1 0 -11.6 0zM492.53 1006.98a5.8 5.8 0 1 0 11.6 0a5.8 5.8 0 1 0 -11.6 0zM492.08 1013.45a5.8 5.8 0 1 0 11.6 0a5.8 5.8 0 1 0 -11.6 0zM492.25 1017.54a5.8 5.8 0 1 0 11.6 0a5.8 5.8 0 1 0 -11.6 0zM491.93 1022.64a5.8 5.8 0 1 0 11.6 0a5.8 5.8 0 1 0 -11.6 0zM491.96 1026.84a5.8 5.8 0 1 0 11.6 0a5.8 5.8 0 1 0 -11.6 0zM491.65 1032.17a5.8 5.8 0 1 0 11.6 0a5.8 5.8 0 1 0 -11.6 0zM492.64 1037.3a5.8 5.8 0 1 0 11.6 0a5.8 5.8 0 1 0 -11.6 0zM491.8 1043.03a5.8 5.8 0 1 0 11.6 0a5.8 5.8 0 1 0 -11.6 0zM497.5 1008.18a5.8 5.8 0 1 0 11.6 0a5.8 5.8 0 1 0 -11.6 0zM497.65 1013.19a5.8 5.8 0 1 0 11.6 0a5.8 5.8 0 1 0 -11.6 0zM497.58 1017.21a5.8 5.8 0 1 0 11.6 0a5.8 5.8 0 1 0 -11.6 0zM497.49 1021.33a5.8 5.8 0 1 0 11.6 0a5.8 5.8 0 1 0 -11.6 0zM497.52 1025.93a5.8 5.8 0 1 0 11.6 0a5.8 5.8 0 1 0 -11.6 0zM497.46 1032.24a5.8 5.8 0 1 0 11.6 0a5.8 5.8 0 1 0 -11.6 0zM497.89 1036.74a5.8 5.8 0 1 0 11.6 0a5.8 5.8 0 1 0 -11.6 0zM502.94 1012.06a5.8 5.8 0 1 0 11.6 0a5.8 5.8 0 1 0 -11.6 0zM503.46 1017.47a5.8 5.8 0 1 0 11.6 0a5.8 5.8 0 1 0 -11.6 0zM503.27 1022.74a5.8 5.8 0 1 0 11.6 0a5.8 5.8 0 1 0 -11.6 0zM503.25 1029.12a5.8 5.8 0 1 0 11.6 0a5.8 5.8 0 1 0 -11.6 0zM509.37 1017.65a5.8 5.8 0 1 0 11.6 0a5.8 5.8 0 1 0 -11.6 0zM508.77 1023.52a5.8 5.8 0 1 0 11.6 0a5.8 5.8 0 1 0 -11.6 0zM469.12 956.8a5.8 5.8 0 1 0 11.6 0a5.8 5.8 0 1 0 -11.6 0zM469.67 1048.3a5.8 5.8 0 1 0 11.6 0a5.8 5.8 0 1 0 -11.6 0z" fill="#000"/>
<path d="M758.75 637.5V580.5H842.55V637.5" fill="none" stroke="#262626" stroke-width="3.5" stroke-linejoin="miter"/>
<path d="M890.7 637.5V594.95H973.8V637.5" fill="none" stroke="#a0a0a0" stroke-width="3.9" stroke-linejoin="miter"/>
<path d="M1021.95 637.5V593.7H1105.55V637.5" fill="none" stroke="#7a7a7a" stroke-width="3.9" stroke-linejoin="miter"/>
<line x1="734.6" y1="372" x2="734.6" y2="639.38" stroke="#000" stroke-width="3.75"/>
<line x1="726.6" y1="637.5" x2="1131" y2="637.5" stroke="#000" stroke-width="3.75"/>
<line x1="726.6" y1="373.75" x2="734.6" y2="373.75" stroke="#000" stroke-width="3.75"/>
<text x="0" y="0" font-size="27" font-weight="bold" text-anchor="end" transform="translate(723.5 383.02) scale(0.9800 1.0000)">10</text>
<line x1="726.6" y1="426.4" x2="734.6" y2="426.4" stroke="#000" stroke-width="3.75"/>
<text x="0" y="0" font-size="27" font-weight="bold" text-anchor="end" transform="translate(723.5 435.67) scale(0.9800 1.0000)">8</text>
<line x1="726.6" y1="479" x2="734.6" y2="479" stroke="#000" stroke-width="3.75"/>
<text x="0" y="0" font-size="27" font-weight="bold" text-anchor="end" transform="translate(723.5 488.27) scale(0.9800 1.0000)">6</text>
<line x1="726.6" y1="531.7" x2="734.6" y2="531.7" stroke="#000" stroke-width="3.75"/>
<text x="0" y="0" font-size="27" font-weight="bold" text-anchor="end" transform="translate(723.5 540.97) scale(0.9800 1.0000)">4</text>
<line x1="726.6" y1="584.5" x2="734.6" y2="584.5" stroke="#000" stroke-width="3.75"/>
<text x="0" y="0" font-size="27" font-weight="bold" text-anchor="end" transform="translate(723.5 593.77) scale(0.9800 1.0000)">2</text>
<line x1="726.6" y1="637.5" x2="734.6" y2="637.5" stroke="#000" stroke-width="3.75"/>
<text x="0" y="0" font-size="27" font-weight="bold" text-anchor="end" transform="translate(723.5 646.77) scale(0.9800 1.0000)">0</text>
<line x1="800" y1="637.5" x2="800" y2="646.5" stroke="#000" stroke-width="3.75"/>
<text x="0" y="0" font-size="26.6" font-weight="bold" text-anchor="middle" transform="translate(800.25 671.3) scale(0.9600 1.0000)">Control</text>
<line x1="932" y1="637.5" x2="932" y2="646.5" stroke="#000" stroke-width="3.75"/>
<text x="0" y="0" font-size="26.6" font-weight="bold" text-anchor="middle" transform="translate(931.75 671.3) scale(0.9600 1.0000)">Day 6</text>
<line x1="1064.25" y1="637.5" x2="1064.25" y2="646.5" stroke="#000" stroke-width="3.75"/>
<text x="0" y="0" font-size="26.6" font-weight="bold" text-anchor="middle" transform="translate(1063.5 671.3) scale(0.9600 1.0000)">Day 10</text>
<text x="658.2" y="501.6" font-size="25.5" font-weight="bold" text-anchor="middle" transform="rotate(-90 658.2 501.6)">bl % Peak H</text>
<path d="M800 384V373.75H1064.5V384" fill="none" stroke="#000" stroke-width="3.7" stroke-linejoin="miter"/>
<text x="927.3" y="368" font-size="24" font-weight="bold" text-anchor="middle">ns</text>
<path d="M800 419.5V410H932V419.5" fill="none" stroke="#000" stroke-width="3.7" stroke-linejoin="miter"/>
<text x="865.8" y="405.5" font-size="24" font-weight="bold" text-anchor="middle">ns</text>
<path d="M932 410V397H1064.5V406.5" fill="none" stroke="#000" stroke-width="3.7" stroke-linejoin="miter"/>
<text x="997.3" y="391.3" font-size="24" font-weight="bold" text-anchor="middle">ns</text>
<line x1="779" y1="583.6" x2="821" y2="583.6" stroke="#000" stroke-width="3.4"/>
<line x1="779" y1="574.2" x2="821" y2="574.2" stroke="#000" stroke-width="3"/>
<line x1="800" y1="574" x2="800" y2="584" stroke="#000" stroke-width="3"/>
<path d="M790.35 455.9a5.65 5.65 0 1 0 11.3 0a5.65 5.65 0 1 0 -11.3 0zM798.85 458.1a5.65 5.65 0 1 0 11.3 0a5.65 5.65 0 1 0 -11.3 0zM794.95 490.7a5.65 5.65 0 1 0 11.3 0a5.65 5.65 0 1 0 -11.3 0zM798.85 502.5a5.65 5.65 0 1 0 11.3 0a5.65 5.65 0 1 0 -11.3 0zM790.35 505.6a5.65 5.65 0 1 0 11.3 0a5.65 5.65 0 1 0 -11.3 0zM786.75 529.7a5.65 5.65 0 1 0 11.3 0a5.65 5.65 0 1 0 -11.3 0zM794.95 534.2a5.65 5.65 0 1 0 11.3 0a5.65 5.65 0 1 0 -11.3 0zM786.75 542.4a5.65 5.65 0 1 0 11.3 0a5.65 5.65 0 1 0 -11.3 0zM779.15 548.7a5.65 5.65 0 1 0 11.3 0a5.65 5.65 0 1 0 -11.3 0zM794.95 549.3a5.65 5.65 0 1 0 11.3 0a5.65 5.65 0 1 0 -11.3 0zM802.65 552a5.65 5.65 0 1 0 11.3 0a5.65 5.65 0 1 0 -11.3 0zM810.85 553.3a5.65 5.65 0 1 0 11.3 0a5.65 5.65 0 1 0 -11.3 0zM786.75 557.4a5.65 5.65 0 1 0 11.3 0a5.65 5.65 0 1 0 -11.3 0zM810.35 564.1a5.65 5.65 0 1 0 11.3 0a5.65 5.65 0 1 0 -11.3 0zM771.35 572.7a5.65 5.65 0 1 0 11.3 0a5.65 5.65 0 1 0 -11.3 0zM786.75 573.2a5.65 5.65 0 1 0 11.3 0a5.65 5.65 0 1 0 -11.3 0zM794.95 570.1a5.65 5.65 0 1 0 11.3 0a5.65 5.65 0 1 0 -11.3 0zM802.65 570.5a5.65 5.65 0 1 0 11.3 0a5.65 5.65 0 1 0 -11.3 0zM810.35 573.2a5.65 5.65 0 1 0 11.3 0a5.65 5.65 0 1 0 -11.3 0zM818.15 569a5.65 5.65 0 1 0 11.3 0a5.65 5.65 0 1 0 -11.3 0zM802.65 581.4a5.65 5.65 0 1 0 11.3 0a5.65 5.65 0 1 0 -11.3 0zM810.35 577.7a5.65 5.65 0 1 0 11.3 0a5.65 5.65 0 1 0 -11.3 0zM771.35 588.6a5.65 5.65 0 1 0 11.3 0a5.65 5.65 0 1 0 -11.3 0zM763.75 593.1a5.65 5.65 0 1 0 11.3 0a5.65 5.65 0 1 0 -11.3 0zM810.35 587.2a5.65 5.65 0 1 0 11.3 0a5.65 5.65 0 1 0 -11.3 0zM818.15 587.7a5.65 5.65 0 1 0 11.3 0a5.65 5.65 0 1 0 -11.3 0zM826.05 588.6a5.65 5.65 0 1 0 11.3 0a5.65 5.65 0 1 0 -11.3 0zM779.15 595.9a5.65 5.65 0 1 0 11.3 0a5.65 5.65 0 1 0 -11.3 0zM794.95 595a5.65 5.65 0 1 0 11.3 0a5.65 5.65 0 1 0 -11.3 0zM802.65 593.1a5.65 5.65 0 1 0 11.3 0a5.65 5.65 0 1 0 -11.3 0zM771.35 600.4a5.65 5.65 0 1 0 11.3 0a5.65 5.65 0 1 0 -11.3 0zM786.75 602.2a5.65 5.65 0 1 0 11.3 0a5.65 5.65 0 1 0 -11.3 0zM810.35 599.5a5.65 5.65 0 1 0 11.3 0a5.65 5.65 0 1 0 -11.3 0zM818.15 600.4a5.65 5.65 0 1 0 11.3 0a5.65 5.65 0 1 0 -11.3 0zM826.05 599.5a5.65 5.65 0 1 0 11.3 0a5.65 5.65 0 1 0 -11.3 0zM763.75 605.8a5.65 5.65 0 1 0 11.3 0a5.65 5.65 0 1 0 -11.3 0zM802.65 604.9a5.65 5.65 0 1 0 11.3 0a5.65 5.65 0 1 0 -11.3 0zM755.95 611.8a5.65 5.65 0 1 0 11.3 0a5.65 5.65 0 1 0 -11.3 0zM794.95 610.4a5.65 5.65 0 1 0 11.3 0a5.65 5.65 0 1 0 -11.3 0zM771.35 614.9a5.65 5.65 0 1 0 11.3 0a5.65 5.65 0 1 0 -11.3 0zM779.15 614a5.65 5.65 0 1 0 11.3 0a5.65 5.65 0 1 0 -11.3 0zM786.75 615.4a5.65 5.65 0 1 0 11.3 0a5.65 5.65 0 1 0 -11.3 0zM818.15 613.1a5.65 5.65 0 1 0 11.3 0a5.65 5.65 0 1 0 -11.3 0zM826.05 612.2a5.65 5.65 0 1 0 11.3 0a5.65 5.65 0 1 0 -11.3 0zM763.75 618.5a5.65 5.65 0 1 0 11.3 0a5.65 5.65 0 1 0 -11.3 0zM802.65 616.7a5.65 5.65 0 1 0 11.3 0a5.65 5.65 0 1 0 -11.3 0zM810.35 616.7a5.65 5.65 0 1 0 11.3 0a5.65 5.65 0 1 0 -11.3 0zM794.95 621.2a5.65 5.65 0 1 0 11.3 0a5.65 5.65 0 1 0 -11.3 0zM779.15 624.9a5.65 5.65 0 1 0 11.3 0a5.65 5.65 0 1 0 -11.3 0zM810.35 628.5a5.65 5.65 0 1 0 11.3 0a5.65 5.65 0 1 0 -11.3 0z" fill="#000"/>
<path d="M927 404h11v11h-11zM889 607.74h11v11h-11zM888.88 613.45h11v11h-11zM893.54 584.23h11v11h-11zM893.73 590.33h11v11h-11zM893.71 596.17h11v11h-11zM894.39 602.58h11v11h-11zM894.26 608.34h11v11h-11zM894.23 613.58h11v11h-11zM899.5 588.71h11v11h-11zM899.55 593.69h11v11h-11zM899.22 599.43h11v11h-11zM899.56 604.76h11v11h-11zM899.18 610.12h11v11h-11zM899.35 614.13h11v11h-11zM905.46 583.57h11v11h-11zM905.38 588.85h11v11h-11zM904.88 593.82h11v11h-11zM905.38 598.06h11v11h-11zM904.57 602.05h11v11h-11zM905.27 607.96h11v11h-11zM905.34 612.91h11v11h-11zM904.76 616.57h11v11h-11zM910.21 583.18h11v11h-11zM910.8 589.19h11v11h-11zM910.6 595.34h11v11h-11zM910.58 600.12h11v11h-11zM910.31 606.16h11v11h-11zM910.28 611.27h11v11h-11zM910.01 617.07h11v11h-11zM910.95 622.63h11v11h-11zM915.59 568.49h11v11h-11zM915.53 572.27h11v11h-11zM915.64 577.11h11v11h-11zM916.16 583.21h11v11h-11zM916.04 587.09h11v11h-11zM915.99 591.57h11v11h-11zM915.67 595.73h11v11h-11zM915.88 599.78h11v11h-11zM916.05 605.41h11v11h-11zM916.21 609.05h11v11h-11zM916.27 615.17h11v11h-11zM915.51 621.04h11v11h-11zM921.76 526.12h11v11h-11zM921.71 530.14h11v11h-11zM921.7 534.4h11v11h-11zM921.04 538.84h11v11h-11zM921.31 543.51h11v11h-11zM921.3 549.71h11v11h-11zM921.55 554.72h11v11h-11zM921.1 561.07h11v11h-11zM921.51 566.37h11v11h-11zM921.97 572.07h11v11h-11zM921.7 576.5h11v11h-11zM921.56 581.58h11v11h-11zM921.81 585.27h11v11h-11zM921.36 591.7h11v11h-11zM921.99 596.16h11v11h-11zM921.08 599.98h11v11h-11zM921.81 603.7h11v11h-11zM921.45 609.48h11v11h-11zM921.02 614.84h11v11h-11zM921.44 620.28h11v11h-11zM926.9 525.25h11v11h-11zM926.55 529.42h11v11h-11zM926.75 534.23h11v11h-11zM927.32 539.84h11v11h-11zM926.96 545.51h11v11h-11zM926.89 549.72h11v11h-11zM927.13 554.68h11v11h-11zM926.59 561.07h11v11h-11zM926.99 566.01h11v11h-11zM927.39 571.66h11v11h-11zM927.13 577.5h11v11h-11zM927.17 583.27h11v11h-11zM927.2 589.35h11v11h-11zM926.75 594.9h11v11h-11zM926.89 601.15h11v11h-11zM927.32 606.49h11v11h-11zM927.49 612.88h11v11h-11zM926.81 616.4h11v11h-11zM926.89 620.84h11v11h-11zM927.05 624.77h11v11h-11zM932.94 527.31h11v11h-11zM932.46 533.04h11v11h-11zM932.96 536.86h11v11h-11zM932.21 542.48h11v11h-11zM932.64 546.98h11v11h-11zM932.26 552.53h11v11h-11zM932.32 558.88h11v11h-11zM932.85 563.14h11v11h-11zM932.68 567.1h11v11h-11zM932.6 571.2h11v11h-11zM932.38 575.54h11v11h-11zM932.47 581.86h11v11h-11zM932.62 586.67h11v11h-11zM932.17 591.01h11v11h-11zM932.27 595.66h11v11h-11zM932.96 599.73h11v11h-11zM932.81 603.33h11v11h-11zM932.7 609.64h11v11h-11zM932.5 613.19h11v11h-11zM932.61 616.81h11v11h-11zM932.24 622.41h11v11h-11zM937.55 570.72h11v11h-11zM937.9 574.79h11v11h-11zM937.73 579.94h11v11h-11zM938.34 585.85h11v11h-11zM938.38 592.12h11v11h-11zM938.08 595.68h11v11h-11zM938.4 599.42h11v11h-11zM938.26 605.16h11v11h-11zM937.56 609.22h11v11h-11zM938.11 615.17h11v11h-11zM937.97 620.53h11v11h-11zM943.19 570.29h11v11h-11zM943.06 574.6h11v11h-11zM943.5 578.21h11v11h-11zM943.65 583.75h11v11h-11zM943.1 587.73h11v11h-11zM943.54 594.02h11v11h-11zM943.69 598.75h11v11h-11zM943.52 604.43h11v11h-11zM943.83 608.16h11v11h-11zM943.04 612.3h11v11h-11zM943.53 616.86h11v11h-11zM943.17 622.25h11v11h-11zM948.89 587.41h11v11h-11zM949.44 593.74h11v11h-11zM948.51 599.62h11v11h-11zM949.11 604.18h11v11h-11zM949.26 609.5h11v11h-11zM948.66 614.94h11v11h-11zM954.81 585.89h11v11h-11zM954.13 590.48h11v11h-11zM954.42 594.06h11v11h-11zM954.03 599.3h11v11h-11zM954.21 604.79h11v11h-11zM954.93 608.62h11v11h-11zM954.9 613.68h11v11h-11zM960.32 584.41h11v11h-11zM960.3 589.67h11v11h-11zM960.23 595.38h11v11h-11zM959.88 601.86h11v11h-11zM959.5 606.54h11v11h-11zM960.08 612.03h11v11h-11zM965.78 609.32h11v11h-11zM965.93 615.2h11v11h-11zM927 523.3h11v11h-11zM926.75 625h11v11h-11z" fill="#000"/>
<path d="M1024.02 596.12L1030.02 608.12L1018.02 608.12zM1029.94 589.04L1035.94 601.04L1023.94 601.04zM1029.41 596.29L1035.41 608.29L1023.41 608.29zM1029.47 604.96L1035.47 616.96L1023.47 616.96zM1035.39 578.5L1041.39 590.5L1029.39 590.5zM1036 585.96L1042 597.96L1030 597.96zM1035.35 591.98L1041.35 603.98L1029.35 603.98zM1035.26 599.11L1041.26 611.11L1029.26 611.11zM1035.55 606.3L1041.55 618.3L1029.55 618.3zM1040.82 573L1046.82 585L1034.82 585zM1040.91 581.42L1046.91 593.42L1034.91 593.42zM1041.12 588.41L1047.12 600.41L1035.12 600.41zM1041.13 594.51L1047.13 606.51L1035.13 606.51zM1040.74 600.05L1046.74 612.05L1034.74 612.05zM1041.66 606.99L1047.66 618.99L1035.66 618.99zM1047.13 562.49L1053.13 574.49L1041.13 574.49zM1047.69 569.64L1053.69 581.64L1041.69 581.64zM1047.07 577.43L1053.07 589.43L1041.07 589.43zM1047.27 585.16L1053.27 597.16L1041.27 597.16zM1047.44 591.36L1053.44 603.36L1041.44 603.36zM1047.23 599.47L1053.23 611.47L1041.23 611.47zM1046.52 608.07L1052.52 620.07L1040.52 620.07zM1052.72 548.78L1058.72 560.78L1046.72 560.78zM1052.56 554.02L1058.56 566.02L1046.56 566.02zM1053.34 559.82L1059.34 571.82L1047.34 571.82zM1052.63 565.31L1058.63 577.31L1046.63 577.31zM1052.86 570.47L1058.86 582.47L1046.86 582.47zM1052.71 576.08L1058.71 588.08L1046.71 588.08zM1053.41 583.84L1059.41 595.84L1047.41 595.84zM1052.35 592L1058.35 604L1046.35 604zM1053.32 598.3L1059.32 610.3L1047.32 610.3zM1052.54 603.2L1058.54 615.2L1046.54 615.2zM1052.76 609.96L1058.76 621.96L1046.76 621.96zM1053.16 617.78L1059.16 629.78L1047.16 629.78zM1058.42 524.79L1064.42 536.79L1052.42 536.79zM1058.9 529.82L1064.9 541.82L1052.9 541.82zM1059.17 535.22L1065.17 547.22L1053.17 547.22zM1058.17 542.62L1064.17 554.62L1052.17 554.62zM1058.82 549.41L1064.82 561.41L1052.82 561.41zM1058.68 554.35L1064.68 566.35L1052.68 566.35zM1059.02 559.23L1065.02 571.23L1053.02 571.23zM1058.86 564.01L1064.86 576.01L1052.86 576.01zM1059.12 572.79L1065.12 584.79L1053.12 584.79zM1058.74 578.5L1064.74 590.5L1052.74 590.5zM1058.51 583.83L1064.51 595.83L1052.51 595.83zM1059.08 592.11L1065.08 604.11L1053.08 604.11zM1058.56 596.91L1064.56 608.91L1052.56 608.91zM1058.31 604.28L1064.31 616.28L1052.31 616.28zM1059.17 612.32L1065.17 624.32L1053.17 624.32zM1058.53 619.33L1064.53 631.33L1052.53 631.33zM1064.13 517.49L1070.13 529.49L1058.13 529.49zM1064.09 523.38L1070.09 535.38L1058.09 535.38zM1064.51 531.56L1070.51 543.56L1058.51 543.56zM1064.88 539.16L1070.88 551.16L1058.88 551.16zM1064.13 547.9L1070.13 559.9L1058.13 559.9zM1064.95 554.31L1070.95 566.31L1058.95 566.31zM1064.36 562.18L1070.36 574.18L1058.36 574.18zM1064.13 569.62L1070.13 581.62L1058.13 581.62zM1063.96 575.04L1069.96 587.04L1057.96 587.04zM1064.18 581.35L1070.18 593.35L1058.18 593.35zM1065.06 588.22L1071.06 600.22L1059.06 600.22zM1064.57 593.6L1070.57 605.6L1058.57 605.6zM1064.62 601.89L1070.62 613.89L1058.62 613.89zM1064.82 608.8L1070.82 620.8L1058.82 620.8zM1065.04 613.65L1071.04 625.65L1059.04 625.65zM1064.87 621.21L1070.87 633.21L1058.87 633.21zM1069.91 523.1L1075.91 535.1L1063.91 535.1zM1070.83 529.92L1076.83 541.92L1064.83 541.92zM1070.19 538.39L1076.19 550.39L1064.19 550.39zM1070.59 545.69L1076.59 557.69L1064.59 557.69zM1070.86 551.81L1076.86 563.81L1064.86 563.81zM1070.57 560.41L1076.57 572.41L1064.57 572.41zM1070.66 568.85L1076.66 580.85L1064.66 580.85zM1070.09 576.27L1076.09 588.27L1064.09 588.27zM1069.99 582.18L1075.99 594.18L1063.99 594.18zM1070.81 587.17L1076.81 599.17L1064.81 599.17zM1069.73 593.15L1075.73 605.15L1063.73 605.15zM1069.82 599.2L1075.82 611.2L1063.82 611.2zM1070.1 605.77L1076.1 617.77L1064.1 617.77zM1070.27 611.25L1076.27 623.25L1064.27 623.25zM1070.12 617.7L1076.12 629.7L1064.12 629.7zM1076.64 551.28L1082.64 563.28L1070.64 563.28zM1075.76 558.14L1081.76 570.14L1069.76 570.14zM1075.79 563.42L1081.79 575.42L1069.79 575.42zM1075.67 569.45L1081.67 581.45L1069.67 581.45zM1076.69 574.41L1082.69 586.41L1070.69 586.41zM1075.64 582.52L1081.64 594.52L1069.64 594.52zM1076.46 589.24L1082.46 601.24L1070.46 601.24zM1075.58 596.06L1081.58 608.06L1069.58 608.06zM1075.96 602.2L1081.96 614.2L1069.96 614.2zM1076.2 610.69L1082.2 622.69L1070.2 622.69zM1081.49 562.9L1087.49 574.9L1075.49 574.9zM1082.23 569.51L1088.23 581.51L1076.23 581.51zM1081.87 575.15L1087.87 587.15L1075.87 587.15zM1082.06 582.51L1088.06 594.51L1076.06 594.51zM1082.4 587.35L1088.4 599.35L1076.4 599.35zM1081.66 594.5L1087.66 606.5L1075.66 606.5zM1082.13 600.24L1088.13 612.24L1076.13 612.24zM1081.7 608.8L1087.7 620.8L1075.7 620.8zM1087.92 575.1L1093.92 587.1L1081.92 587.1zM1087.82 582.2L1093.82 594.2L1081.82 594.2zM1087.76 587.94L1093.76 599.94L1081.76 599.94zM1088.06 594.14L1094.06 606.14L1082.06 606.14zM1088.28 600.42L1094.28 612.42L1082.28 612.42zM1087.37 607.55L1093.37 619.55L1081.37 619.55zM1093.68 576.66L1099.68 588.66L1087.68 588.66zM1092.91 582.48L1098.91 594.48L1086.91 594.48zM1093.87 589.04L1099.87 601.04L1087.87 601.04zM1094.03 594.45L1100.03 606.45L1088.03 606.45zM1093.09 601.28L1099.09 613.28L1087.09 613.28zM1093.34 606.45L1099.34 618.45L1087.34 618.45zM1099.69 585.82L1105.69 597.82L1093.69 597.82zM1099.81 592.79L1105.81 604.79L1093.81 604.79zM1099.1 600.1L1105.1 612.1L1093.1 612.1zM1105.64 595.89L1111.64 607.89L1099.64 607.89zM1064.5 514L1070.5 526L1058.5 526zM1063.63 622.5L1069.63 634.5L1057.63 634.5z" fill="#000"/>
<path d="M764.25 1054.3V978.25H851.25V1054.3" fill="none" stroke="#262626" stroke-width="3.5" stroke-linejoin="miter"/>
<path d="M901.2 1054.3V988.95H988.05V1054.3" fill="none" stroke="#a0a0a0" stroke-width="3.9" stroke-linejoin="miter"/>
<path d="M1037.7 1054.3V986.95H1123.8V1054.3" fill="none" stroke="#7a7a7a" stroke-width="3.9" stroke-linejoin="miter"/>
<line x1="740.4" y1="780" x2="740.4" y2="1056.17" stroke="#000" stroke-width="3.75"/>
<line x1="732.4" y1="1054.3" x2="1150.8" y2="1054.3" stroke="#000" stroke-width="3.75"/>
<line x1="732.4" y1="781.75" x2="740.4" y2="781.75" stroke="#000" stroke-width="3.75"/>
<text x="0" y="0" font-size="27" font-weight="bold" text-anchor="end" transform="translate(727.8 791.02) scale(0.9800 1.0000)">0.8</text>
<line x1="732.4" y1="850" x2="740.4" y2="850" stroke="#000" stroke-width="3.75"/>
<text x="0" y="0" font-size="27" font-weight="bold" text-anchor="end" transform="translate(727.8 859.27) scale(0.9800 1.0000)">0.6</text>
<line x1="732.4" y1="918.2" x2="740.4" y2="918.2" stroke="#000" stroke-width="3.75"/>
<text x="0" y="0" font-size="27" font-weight="bold" text-anchor="end" transform="translate(727.8 927.47) scale(0.9800 1.0000)">0.4</text>
<line x1="732.4" y1="986" x2="740.4" y2="986" stroke="#000" stroke-width="3.75"/>
<text x="0" y="0" font-size="27" font-weight="bold" text-anchor="end" transform="translate(727.8 995.27) scale(0.9800 1.0000)">0.2</text>
<line x1="732.4" y1="1054.3" x2="740.4" y2="1054.3" stroke="#000" stroke-width="3.75"/>
<text x="0" y="0" font-size="27" font-weight="bold" text-anchor="end" transform="translate(727.8 1063.57) scale(0.9800 1.0000)">0.0</text>
<line x1="808" y1="1054.3" x2="808" y2="1063.3" stroke="#000" stroke-width="3.75"/>
<text x="0" y="0" font-size="24.7" font-weight="bold" text-anchor="middle" transform="translate(808 1089) scale(1.0700 1.0000)">Control</text>
<line x1="945" y1="1054.3" x2="945" y2="1063.3" stroke="#000" stroke-width="3.75"/>
<text x="0" y="0" font-size="24.7" font-weight="bold" text-anchor="middle" transform="translate(944.5 1089) scale(1.0700 1.0000)">Day 6</text>
<line x1="1080.75" y1="1054.3" x2="1080.75" y2="1063.3" stroke="#000" stroke-width="3.75"/>
<text x="0" y="0" font-size="24.7" font-weight="bold" text-anchor="middle" transform="translate(1080.5 1089) scale(1.0700 1.0000)">Day 10</text>
<text x="659.2" y="913.6" font-size="26.1" font-weight="bold" text-anchor="middle" transform="rotate(-90 659.2 913.6)">time to bl 25% (s)</text>
<path d="M807.7 806.5V795.5H1081.3V806.5" fill="none" stroke="#000" stroke-width="3.7" stroke-linejoin="miter"/>
<text x="0" y="0" font-size="24" font-weight="bold" text-anchor="middle" transform="translate(944.3 790) scale(1.0700 1.0000)">ns</text>
<path d="M807.7 831.5V821.3H945V831.5" fill="none" stroke="#000" stroke-width="3.7" stroke-linejoin="miter"/>
<text x="0" y="0" font-size="24" font-weight="bold" text-anchor="middle" transform="translate(876.6 815.5) scale(1.0700 1.0000)">ns</text>
<path d="M945 860V850H1081.3V860" fill="none" stroke="#000" stroke-width="3.7" stroke-linejoin="miter"/>
<text x="0" y="0" font-size="24" font-weight="bold" text-anchor="middle" transform="translate(1012.6 843.3) scale(1.0700 1.0000)">ns</text>
<line x1="785.9" y1="972.3" x2="831" y2="972.3" stroke="#000" stroke-width="3"/>
<line x1="785.9" y1="983.4" x2="831" y2="983.4" stroke="#000" stroke-width="3"/>
<line x1="808.3" y1="972" x2="808.3" y2="983.5" stroke="#000" stroke-width="3"/>
<path d="M802.15 855a5.85 5.85 0 1 0 11.7 0a5.85 5.85 0 1 0 -11.7 0zM802.15 872.5a5.85 5.85 0 1 0 11.7 0a5.85 5.85 0 1 0 -11.7 0zM802.35 918.4a5.85 5.85 0 1 0 11.7 0a5.85 5.85 0 1 0 -11.7 0zM802.35 934.4a5.85 5.85 0 1 0 11.7 0a5.85 5.85 0 1 0 -11.7 0zM802.35 959.1a5.85 5.85 0 1 0 11.7 0a5.85 5.85 0 1 0 -11.7 0zM802.35 973.6a5.85 5.85 0 1 0 11.7 0a5.85 5.85 0 1 0 -11.7 0zM802.35 989.4a5.85 5.85 0 1 0 11.7 0a5.85 5.85 0 1 0 -11.7 0zM802.35 1001.8a5.85 5.85 0 1 0 11.7 0a5.85 5.85 0 1 0 -11.7 0zM802.35 1018.3a5.85 5.85 0 1 0 11.7 0a5.85 5.85 0 1 0 -11.7 0zM792.55 934.4a5.85 5.85 0 1 0 11.7 0a5.85 5.85 0 1 0 -11.7 0zM792.55 967a5.85 5.85 0 1 0 11.7 0a5.85 5.85 0 1 0 -11.7 0zM792.55 982.1a5.85 5.85 0 1 0 11.7 0a5.85 5.85 0 1 0 -11.7 0zM792.55 995.9a5.85 5.85 0 1 0 11.7 0a5.85 5.85 0 1 0 -11.7 0zM792.55 1022.2a5.85 5.85 0 1 0 11.7 0a5.85 5.85 0 1 0 -11.7 0zM812.45 932.2a5.85 5.85 0 1 0 11.7 0a5.85 5.85 0 1 0 -11.7 0zM812.45 955.8a5.85 5.85 0 1 0 11.7 0a5.85 5.85 0 1 0 -11.7 0zM812.45 967a5.85 5.85 0 1 0 11.7 0a5.85 5.85 0 1 0 -11.7 0zM812.45 982.8a5.85 5.85 0 1 0 11.7 0a5.85 5.85 0 1 0 -11.7 0zM812.45 997.2a5.85 5.85 0 1 0 11.7 0a5.85 5.85 0 1 0 -11.7 0zM812.45 1015a5.85 5.85 0 1 0 11.7 0a5.85 5.85 0 1 0 -11.7 0zM812.45 1027.5a5.85 5.85 0 1 0 11.7 0a5.85 5.85 0 1 0 -11.7 0zM822.45 932.2a5.85 5.85 0 1 0 11.7 0a5.85 5.85 0 1 0 -11.7 0zM822.45 942.7a5.85 5.85 0 1 0 11.7 0a5.85 5.85 0 1 0 -11.7 0zM822.45 961.1a5.85 5.85 0 1 0 11.7 0a5.85 5.85 0 1 0 -11.7 0zM822.45 992a5.85 5.85 0 1 0 11.7 0a5.85 5.85 0 1 0 -11.7 0zM822.45 1005.8a5.85 5.85 0 1 0 11.7 0a5.85 5.85 0 1 0 -11.7 0zM822.45 1018.9a5.85 5.85 0 1 0 11.7 0a5.85 5.85 0 1 0 -11.7 0zM832.55 951.2a5.85 5.85 0 1 0 11.7 0a5.85 5.85 0 1 0 -11.7 0zM832.55 967a5.85 5.85 0 1 0 11.7 0a5.85 5.85 0 1 0 -11.7 0zM832.55 984.1a5.85 5.85 0 1 0 11.7 0a5.85 5.85 0 1 0 -11.7 0zM832.55 997.9a5.85 5.85 0 1 0 11.7 0a5.85 5.85 0 1 0 -11.7 0zM832.55 1022.9a5.85 5.85 0 1 0 11.7 0a5.85 5.85 0 1 0 -11.7 0zM842.75 981.5a5.85 5.85 0 1 0 11.7 0a5.85 5.85 0 1 0 -11.7 0zM842.75 992.6a5.85 5.85 0 1 0 11.7 0a5.85 5.85 0 1 0 -11.7 0zM842.75 1013.7a5.85 5.85 0 1 0 11.7 0a5.85 5.85 0 1 0 -11.7 0zM782.25 957.2a5.85 5.85 0 1 0 11.7 0a5.85 5.85 0 1 0 -11.7 0zM782.25 982.1a5.85 5.85 0 1 0 11.7 0a5.85 5.85 0 1 0 -11.7 0zM782.25 1000.5a5.85 5.85 0 1 0 11.7 0a5.85 5.85 0 1 0 -11.7 0zM782.25 1015a5.85 5.85 0 1 0 11.7 0a5.85 5.85 0 1 0 -11.7 0zM772.55 944.7a5.85 5.85 0 1 0 11.7 0a5.85 5.85 0 1 0 -11.7 0zM772.55 959.8a5.85 5.85 0 1 0 11.7 0a5.85 5.85 0 1 0 -11.7 0zM772.55 971.6a5.85 5.85 0 1 0 11.7 0a5.85 5.85 0 1 0 -11.7 0zM772.55 987.4a5.85 5.85 0 1 0 11.7 0a5.85 5.85 0 1 0 -11.7 0zM772.55 999.2a5.85 5.85 0 1 0 11.7 0a5.85 5.85 0 1 0 -11.7 0zM772.55 1009.7a5.85 5.85 0 1 0 11.7 0a5.85 5.85 0 1 0 -11.7 0zM772.55 1022.9a5.85 5.85 0 1 0 11.7 0a5.85 5.85 0 1 0 -11.7 0zM762.25 976.2a5.85 5.85 0 1 0 11.7 0a5.85 5.85 0 1 0 -11.7 0zM762.25 990.7a5.85 5.85 0 1 0 11.7 0a5.85 5.85 0 1 0 -11.7 0zM762.25 1015a5.85 5.85 0 1 0 11.7 0a5.85 5.85 0 1 0 -11.7 0z" fill="#000"/>
<path d="M938.75 1030.65h11.7v11.7h-11.7zM899.59 977.48h11.7v11.7h-11.7zM899.9 982.79h11.7v11.7h-11.7zM900.45 987.72h11.7v11.7h-11.7zM899.47 991.65h11.7v11.7h-11.7zM899.85 998.22h11.7v11.7h-11.7zM899.78 1002.48h11.7v11.7h-11.7zM905.08 969.26h11.7v11.7h-11.7zM905.92 975.2h11.7v11.7h-11.7zM905.27 980.87h11.7v11.7h-11.7zM905.78 986.99h11.7v11.7h-11.7zM905.69 991.24h11.7v11.7h-11.7zM905.09 995.56h11.7v11.7h-11.7zM905.38 1000.25h11.7v11.7h-11.7zM905.7 1005.13h11.7v11.7h-11.7zM906.01 1011.37h11.7v11.7h-11.7zM910.84 962.1h11.7v11.7h-11.7zM911.25 968.61h11.7v11.7h-11.7zM910.75 974.42h11.7v11.7h-11.7zM911.56 979.31h11.7v11.7h-11.7zM911.64 984.97h11.7v11.7h-11.7zM911.1 989.23h11.7v11.7h-11.7zM911.09 995.36h11.7v11.7h-11.7zM911.21 1001.47h11.7v11.7h-11.7zM910.75 1005.47h11.7v11.7h-11.7zM910.77 1012.18h11.7v11.7h-11.7zM910.99 1016.43h11.7v11.7h-11.7zM916.89 961.72h11.7v11.7h-11.7zM916.36 965.48h11.7v11.7h-11.7zM916.98 969.55h11.7v11.7h-11.7zM917.22 975.35h11.7v11.7h-11.7zM916.5 981.39h11.7v11.7h-11.7zM917.24 987.41h11.7v11.7h-11.7zM916.26 992.14h11.7v11.7h-11.7zM916.53 996.95h11.7v11.7h-11.7zM916.3 1001.14h11.7v11.7h-11.7zM917.12 1005.17h11.7v11.7h-11.7zM916.86 1008.97h11.7v11.7h-11.7zM916.44 1013.25h11.7v11.7h-11.7zM922.25 956.83h11.7v11.7h-11.7zM922.57 962.11h11.7v11.7h-11.7zM922.57 967.19h11.7v11.7h-11.7zM921.98 972.28h11.7v11.7h-11.7zM922.63 976.31h11.7v11.7h-11.7zM922.79 982.27h11.7v11.7h-11.7zM922.43 988.07h11.7v11.7h-11.7zM922.7 992.23h11.7v11.7h-11.7zM922.27 996.24h11.7v11.7h-11.7zM922.23 1000.31h11.7v11.7h-11.7zM922.28 1004.91h11.7v11.7h-11.7zM922.39 1010.77h11.7v11.7h-11.7zM922.63 1015.17h11.7v11.7h-11.7zM928.06 934.04h11.7v11.7h-11.7zM927.71 940.48h11.7v11.7h-11.7zM928.26 944.75h11.7v11.7h-11.7zM927.85 949.52h11.7v11.7h-11.7zM927.83 955.72h11.7v11.7h-11.7zM927.66 959.97h11.7v11.7h-11.7zM928.15 964.69h11.7v11.7h-11.7zM928.22 969.48h11.7v11.7h-11.7zM927.7 973.33h11.7v11.7h-11.7zM927.93 978.92h11.7v11.7h-11.7zM928.39 984.12h11.7v11.7h-11.7zM927.63 988.62h11.7v11.7h-11.7zM927.93 992.37h11.7v11.7h-11.7zM927.92 996.93h11.7v11.7h-11.7zM927.45 1000.59h11.7v11.7h-11.7zM928.21 1005.42h11.7v11.7h-11.7zM928.36 1009.99h11.7v11.7h-11.7zM927.85 1015.44h11.7v11.7h-11.7zM933.66 929.81h11.7v11.7h-11.7zM933.59 936.09h11.7v11.7h-11.7zM933.15 940.73h11.7v11.7h-11.7zM933.24 946.16h11.7v11.7h-11.7zM933.59 950.97h11.7v11.7h-11.7zM933.72 957.54h11.7v11.7h-11.7zM933.91 962.8h11.7v11.7h-11.7zM933.44 967.41h11.7v11.7h-11.7zM933.6 973.16h11.7v11.7h-11.7zM933.46 977.49h11.7v11.7h-11.7zM933.29 983.7h11.7v11.7h-11.7zM933.1 989.54h11.7v11.7h-11.7zM933.73 996.16h11.7v11.7h-11.7zM934.03 1000.81h11.7v11.7h-11.7zM933.11 1006.94h11.7v11.7h-11.7zM933.54 1011.35h11.7v11.7h-11.7zM933.19 1018.1h11.7v11.7h-11.7zM938.69 927.63h11.7v11.7h-11.7zM939.19 932.54h11.7v11.7h-11.7zM938.79 937.56h11.7v11.7h-11.7zM939.45 941.27h11.7v11.7h-11.7zM939.13 946.28h11.7v11.7h-11.7zM939.34 951.41h11.7v11.7h-11.7zM939.48 957.86h11.7v11.7h-11.7zM938.99 963.77h11.7v11.7h-11.7zM938.74 967.94h11.7v11.7h-11.7zM938.71 974.26h11.7v11.7h-11.7zM939.56 979.67h11.7v11.7h-11.7zM939.04 984.32h11.7v11.7h-11.7zM939.59 989.26h11.7v11.7h-11.7zM939.49 995.04h11.7v11.7h-11.7zM939.38 998.8h11.7v11.7h-11.7zM939.05 1003.85h11.7v11.7h-11.7zM939.39 1010.03h11.7v11.7h-11.7zM939.39 1016.52h11.7v11.7h-11.7zM944.81 930.83h11.7v11.7h-11.7zM944.7 936.91h11.7v11.7h-11.7zM944.84 940.98h11.7v11.7h-11.7zM945.12 947.34h11.7v11.7h-11.7zM944.63 951.37h11.7v11.7h-11.7zM944.59 955.72h11.7v11.7h-11.7zM944.67 962.36h11.7v11.7h-11.7zM944.52 966.98h11.7v11.7h-11.7zM944.92 971.99h11.7v11.7h-11.7zM944.44 976.7h11.7v11.7h-11.7zM944.51 981.04h11.7v11.7h-11.7zM944.42 987.51h11.7v11.7h-11.7zM944.36 993.5h11.7v11.7h-11.7zM944.52 999.6h11.7v11.7h-11.7zM944.68 1005.67h11.7v11.7h-11.7zM944.34 1009.55h11.7v11.7h-11.7zM944.79 1015.69h11.7v11.7h-11.7zM950.33 933.63h11.7v11.7h-11.7zM950.45 937.46h11.7v11.7h-11.7zM950.7 942.08h11.7v11.7h-11.7zM950.62 947.43h11.7v11.7h-11.7zM950.56 951.45h11.7v11.7h-11.7zM950.7 956.99h11.7v11.7h-11.7zM950.4 963.39h11.7v11.7h-11.7zM950.62 968.88h11.7v11.7h-11.7zM950.39 973.34h11.7v11.7h-11.7zM950.44 979.44h11.7v11.7h-11.7zM950.71 984.77h11.7v11.7h-11.7zM950.11 991.45h11.7v11.7h-11.7zM950.46 995.33h11.7v11.7h-11.7zM950.82 999.43h11.7v11.7h-11.7zM950.38 1004.55h11.7v11.7h-11.7zM950.72 1010.74h11.7v11.7h-11.7zM950.3 1014.82h11.7v11.7h-11.7zM950.31 1019.03h11.7v11.7h-11.7zM955.79 955.41h11.7v11.7h-11.7zM956.11 960.61h11.7v11.7h-11.7zM955.59 964.84h11.7v11.7h-11.7zM955.61 971.16h11.7v11.7h-11.7zM956.19 977h11.7v11.7h-11.7zM955.8 982.49h11.7v11.7h-11.7zM956.24 988.81h11.7v11.7h-11.7zM956.35 992.67h11.7v11.7h-11.7zM955.74 998.29h11.7v11.7h-11.7zM955.55 1002.46h11.7v11.7h-11.7zM956.3 1008.63h11.7v11.7h-11.7zM955.63 1013.36h11.7v11.7h-11.7zM955.86 1017.22h11.7v11.7h-11.7zM961.09 955.17h11.7v11.7h-11.7zM961.19 959.05h11.7v11.7h-11.7zM961.91 965.73h11.7v11.7h-11.7zM961.95 971.57h11.7v11.7h-11.7zM961.3 976.22h11.7v11.7h-11.7zM961.66 982.58h11.7v11.7h-11.7zM961.41 989.1h11.7v11.7h-11.7zM961.77 994.02h11.7v11.7h-11.7zM961.22 1000.42h11.7v11.7h-11.7zM961.06 1004.88h11.7v11.7h-11.7zM961.97 1010.26h11.7v11.7h-11.7zM961.2 1015.68h11.7v11.7h-11.7zM967.12 962.16h11.7v11.7h-11.7zM966.88 966.95h11.7v11.7h-11.7zM967.31 972.6h11.7v11.7h-11.7zM967.62 979.22h11.7v11.7h-11.7zM967.37 984.31h11.7v11.7h-11.7zM967.08 989.12h11.7v11.7h-11.7zM967.63 994.53h11.7v11.7h-11.7zM967.11 998.3h11.7v11.7h-11.7zM967.45 1002.99h11.7v11.7h-11.7zM967.12 1009.6h11.7v11.7h-11.7zM967.24 1013.49h11.7v11.7h-11.7zM973.19 967.1h11.7v11.7h-11.7zM973.22 971.62h11.7v11.7h-11.7zM972.7 976.13h11.7v11.7h-11.7zM972.85 980.27h11.7v11.7h-11.7zM972.94 985.13h11.7v11.7h-11.7zM972.38 991.76h11.7v11.7h-11.7zM972.85 997.45h11.7v11.7h-11.7zM972.29 1001.94h11.7v11.7h-11.7zM972.95 1008.51h11.7v11.7h-11.7zM972.35 1014.1h11.7v11.7h-11.7zM978.78 969.69h11.7v11.7h-11.7zM978.19 973.86h11.7v11.7h-11.7zM978.46 980.47h11.7v11.7h-11.7zM978.73 985.27h11.7v11.7h-11.7zM978.1 989.28h11.7v11.7h-11.7zM978.52 993.14h11.7v11.7h-11.7zM978.15 998.29h11.7v11.7h-11.7zM978.1 1003.31h11.7v11.7h-11.7zM938.96 926h11.7v11.7h-11.7zM939.2 1019.1h11.7v11.7h-11.7z" fill="#000"/>
<path d="M1043.23 995.76L1049.23 1007.76L1037.23 1007.76zM1049.9 970.76L1055.9 982.76L1043.9 982.76zM1049.14 981.19L1055.14 993.19L1043.14 993.19zM1049.04 987.34L1055.04 999.34L1043.04 999.34zM1049.03 997.89L1055.03 1009.89L1043.03 1009.89zM1048.92 1004.41L1054.92 1016.41L1042.92 1016.41zM1056.18 948.51L1062.18 960.51L1050.18 960.51zM1055.88 957.89L1061.88 969.89L1049.88 969.89zM1056.12 966.46L1062.12 978.46L1050.12 978.46zM1055.48 975.09L1061.48 987.09L1049.48 987.09zM1055.49 982.45L1061.49 994.45L1049.49 994.45zM1056.38 990.16L1062.38 1002.16L1050.38 1002.16zM1055.28 998L1061.28 1010L1049.28 1010zM1056.18 1006.08L1062.18 1018.08L1050.18 1018.08zM1056.04 1014.02L1062.04 1026.02L1050.04 1026.02zM1061.86 944.6L1067.86 956.6L1055.86 956.6zM1061.73 952.24L1067.73 964.24L1055.73 964.24zM1061.51 958.16L1067.51 970.16L1055.51 970.16zM1062.33 968.58L1068.33 980.58L1056.33 980.58zM1062.09 979L1068.09 991L1056.09 991zM1062.54 989.44L1068.54 1001.44L1056.54 1001.44zM1062.13 998.22L1068.13 1010.22L1056.13 1010.22zM1061.77 1006.46L1067.77 1018.46L1055.77 1018.46zM1062.37 1014.05L1068.37 1026.05L1056.37 1026.05zM1068.79 941.99L1074.79 953.99L1062.79 953.99zM1067.97 950.91L1073.97 962.91L1061.97 962.91zM1067.8 957.87L1073.8 969.87L1061.8 969.87zM1068.94 963.75L1074.94 975.75L1062.94 975.75zM1068.96 972.4L1074.96 984.4L1062.96 984.4zM1068.18 981.98L1074.18 993.98L1062.18 993.98zM1068.91 992.48L1074.91 1004.48L1062.91 1004.48zM1067.9 1000.47L1073.9 1012.47L1061.9 1012.47zM1068 1007.77L1074 1019.77L1062 1019.77zM1067.9 1015.31L1073.9 1027.31L1061.9 1027.31zM1075.04 934.93L1081.04 946.93L1069.04 946.93zM1074.68 943.54L1080.68 955.54L1068.68 955.54zM1074.55 953.75L1080.55 965.75L1068.55 965.75zM1074.14 963.53L1080.14 975.53L1068.14 975.53zM1074.32 974.02L1080.32 986.02L1068.32 986.02zM1075.16 979.78L1081.16 991.78L1069.16 991.78zM1074.91 989.06L1080.91 1001.06L1068.91 1001.06zM1074.55 998.57L1080.55 1010.57L1068.55 1010.57zM1074.48 1004.88L1080.48 1016.88L1068.48 1016.88zM1075.28 1015.31L1081.28 1027.31L1069.28 1027.31zM1074.63 1022.18L1080.63 1034.18L1068.63 1034.18zM1080.41 936.51L1086.41 948.51L1074.41 948.51zM1080.7 946.33L1086.7 958.33L1074.7 958.33zM1080.55 954.78L1086.55 966.78L1074.55 966.78zM1081.46 960.93L1087.46 972.93L1075.46 972.93zM1081.57 969.14L1087.57 981.14L1075.57 981.14zM1081.3 979.14L1087.3 991.14L1075.3 991.14zM1081.11 985.25L1087.11 997.25L1075.11 997.25zM1081 995.87L1087 1007.87L1075 1007.87zM1080.62 1001.93L1086.62 1013.93L1074.62 1013.93zM1081.57 1012.53L1087.57 1024.53L1075.57 1024.53zM1080.78 1019.49L1086.78 1031.49L1074.78 1031.49zM1086.92 937.36L1092.92 949.36L1080.92 949.36zM1087.44 947.95L1093.44 959.95L1081.44 959.95zM1086.73 955.48L1092.73 967.48L1080.73 967.48zM1087.6 963.73L1093.6 975.73L1081.6 975.73zM1086.8 970.35L1092.8 982.35L1080.8 982.35zM1087.8 979.65L1093.8 991.65L1081.8 991.65zM1087.27 987.25L1093.27 999.25L1081.27 999.25zM1087.32 996.12L1093.32 1008.12L1081.32 1008.12zM1087.03 1002.49L1093.03 1014.49L1081.03 1014.49zM1086.94 1009.24L1092.94 1021.24L1080.94 1021.24zM1087.17 1015.42L1093.17 1027.42L1081.17 1027.42zM1087.72 1022.24L1093.72 1034.24L1081.72 1034.24zM1093.97 937L1099.97 949L1087.97 949zM1093.18 944.06L1099.18 956.06L1087.18 956.06zM1093.57 952.62L1099.57 964.62L1087.57 964.62zM1093.15 960.99L1099.15 972.99L1087.15 972.99zM1093.91 969.34L1099.91 981.34L1087.91 981.34zM1093.31 977.27L1099.31 989.27L1087.31 989.27zM1093.36 987.55L1099.36 999.55L1087.36 999.55zM1093.83 998.19L1099.83 1010.19L1087.83 1010.19zM1093.54 1003.94L1099.54 1015.94L1087.54 1015.94zM1093.94 1010.41L1099.94 1022.41L1087.94 1022.41zM1093.1 1018.22L1099.1 1030.22L1087.1 1030.22zM1099.98 948.48L1105.98 960.48L1093.98 960.48zM1100.48 954.59L1106.48 966.59L1094.48 966.59zM1099.93 961.81L1105.93 973.81L1093.93 973.81zM1099.87 969.96L1105.87 981.96L1093.87 981.96zM1100.37 975.79L1106.37 987.79L1094.37 987.79zM1099.77 983.96L1105.77 995.96L1093.77 995.96zM1100.33 993.93L1106.33 1005.93L1094.33 1005.93zM1100.39 1003.21L1106.39 1015.21L1094.39 1015.21zM1099.43 1010.67L1105.43 1022.67L1093.43 1022.67zM1100.02 1018.12L1106.02 1030.12L1094.02 1030.12zM1106.4 952.66L1112.4 964.66L1100.4 964.66zM1105.62 961.22L1111.62 973.22L1099.62 973.22zM1105.93 969.65L1111.93 981.65L1099.93 981.65zM1106.33 975.75L1112.33 987.75L1100.33 987.75zM1105.94 985.63L1111.94 997.63L1099.94 997.63zM1106.35 994.66L1112.35 1006.66L1100.35 1006.66zM1106.65 1003.76L1112.65 1015.76L1100.65 1015.76zM1113.03 968.33L1119.03 980.33L1107.03 980.33zM1112.92 974.44L1118.92 986.44L1106.92 986.44zM1112.39 983.67L1118.39 995.67L1106.39 995.67zM1112 993.17L1118 1005.17L1106 1005.17zM1113.1 999.71L1119.1 1011.71L1107.1 1011.71zM1118.34 986.48L1124.34 998.48L1112.34 998.48zM1119.08 996.32L1125.08 1008.32L1113.08 1008.32zM1083.37 929.1L1089.37 941.1L1077.37 941.1zM1080.85 1025.9L1086.85 1037.9L1074.85 1037.9z" fill="#000"/>
<path d="M1380.5 639.2V550H1467V639.2" fill="none" stroke="#262626" stroke-width="3.5" stroke-linejoin="miter"/>
<path d="M1516.7 639.2V553.2H1603.05V639.2" fill="none" stroke="#a0a0a0" stroke-width="3.9" stroke-linejoin="miter"/>
<path d="M1652.45 639.2V558.7H1738.55V639.2" fill="none" stroke="#7a7a7a" stroke-width="3.9" stroke-linejoin="miter"/>
<line x1="1355.4" y1="366.3" x2="1355.4" y2="641.08" stroke="#000" stroke-width="3.75"/>
<line x1="1347.4" y1="639.2" x2="1765.5" y2="639.2" stroke="#000" stroke-width="3.75"/>
<line x1="1347.4" y1="368" x2="1355.4" y2="368" stroke="#000" stroke-width="3.75"/>
<text x="0" y="0" font-size="27" font-weight="bold" text-anchor="end" transform="translate(1344.3 377.27) scale(0.9800 1.0000)">0.8</text>
<line x1="1347.4" y1="435.5" x2="1355.4" y2="435.5" stroke="#000" stroke-width="3.75"/>
<text x="0" y="0" font-size="27" font-weight="bold" text-anchor="end" transform="translate(1344.3 444.77) scale(0.9800 1.0000)">0.6</text>
<line x1="1347.4" y1="503.3" x2="1355.4" y2="503.3" stroke="#000" stroke-width="3.75"/>
<text x="0" y="0" font-size="27" font-weight="bold" text-anchor="end" transform="translate(1344.3 512.57) scale(0.9800 1.0000)">0.4</text>
<line x1="1347.4" y1="571.2" x2="1355.4" y2="571.2" stroke="#000" stroke-width="3.75"/>
<text x="0" y="0" font-size="27" font-weight="bold" text-anchor="end" transform="translate(1344.3 580.47) scale(0.9800 1.0000)">0.2</text>
<line x1="1347.4" y1="639.2" x2="1355.4" y2="639.2" stroke="#000" stroke-width="3.75"/>
<text x="0" y="0" font-size="27" font-weight="bold" text-anchor="end" transform="translate(1344.3 648.47) scale(0.9800 1.0000)">0.0</text>
<line x1="1423.5" y1="639.2" x2="1423.5" y2="648.2" stroke="#000" stroke-width="3.75"/>
<text x="0" y="0" font-size="24.7" font-weight="bold" text-anchor="middle" transform="translate(1423.6 674.5) scale(1.0700 1.0000)">Control</text>
<line x1="1559.75" y1="639.2" x2="1559.75" y2="648.2" stroke="#000" stroke-width="3.75"/>
<text x="0" y="0" font-size="24.7" font-weight="bold" text-anchor="middle" transform="translate(1559.25 674.5) scale(1.0700 1.0000)">Day 6</text>
<line x1="1695.5" y1="639.2" x2="1695.5" y2="648.2" stroke="#000" stroke-width="3.75"/>
<text x="0" y="0" font-size="24.7" font-weight="bold" text-anchor="middle" transform="translate(1695.25 674.5) scale(1.0700 1.0000)">Day 10</text>
<text x="1274.8" y="500.7" font-size="26" font-weight="bold" text-anchor="middle" transform="rotate(-90 1274.8 500.7)">time to bl 50% (s)</text>
<path d="M1424.3 416V405.5H1696V416" fill="none" stroke="#000" stroke-width="3.7" stroke-linejoin="miter"/>
<text x="0" y="0" font-size="24" font-weight="bold" text-anchor="middle" transform="translate(1556.9 400) scale(1.0700 1.0000)">ns</text>
<path d="M1424.3 440V428.8H1560V439.5" fill="none" stroke="#000" stroke-width="3.7" stroke-linejoin="miter"/>
<text x="0" y="0" font-size="24" font-weight="bold" text-anchor="middle" transform="translate(1491.9 423.3) scale(1.0700 1.0000)">ns</text>
<path d="M1559.5 464V454.3H1696V464" fill="none" stroke="#000" stroke-width="3.7" stroke-linejoin="miter"/>
<text x="0" y="0" font-size="24" font-weight="bold" text-anchor="middle" transform="translate(1628.4 448.3) scale(1.0700 1.0000)">ns</text>
<path d="M1418.25 421.3a5.65 5.65 0 1 0 11.3 0a5.65 5.65 0 1 0 -11.3 0zM1418.25 433.7a5.65 5.65 0 1 0 11.3 0a5.65 5.65 0 1 0 -11.3 0zM1418.25 489.1a5.65 5.65 0 1 0 11.3 0a5.65 5.65 0 1 0 -11.3 0zM1425.25 487a5.65 5.65 0 1 0 11.3 0a5.65 5.65 0 1 0 -11.3 0zM1431.75 490.2a5.65 5.65 0 1 0 11.3 0a5.65 5.65 0 1 0 -11.3 0zM1398.05 497.4a5.65 5.65 0 1 0 11.3 0a5.65 5.65 0 1 0 -11.3 0zM1404.55 502.2a5.65 5.65 0 1 0 11.3 0a5.65 5.65 0 1 0 -11.3 0zM1438.25 498.9a5.65 5.65 0 1 0 11.3 0a5.65 5.65 0 1 0 -11.3 0zM1418.25 504.3a5.65 5.65 0 1 0 11.3 0a5.65 5.65 0 1 0 -11.3 0zM1425.25 506.5a5.65 5.65 0 1 0 11.3 0a5.65 5.65 0 1 0 -11.3 0zM1431.75 503.3a5.65 5.65 0 1 0 11.3 0a5.65 5.65 0 1 0 -11.3 0zM1418.25 517.4a5.65 5.65 0 1 0 11.3 0a5.65 5.65 0 1 0 -11.3 0zM1438.25 525.7a5.65 5.65 0 1 0 11.3 0a5.65 5.65 0 1 0 -11.3 0zM1431.75 531.5a5.65 5.65 0 1 0 11.3 0a5.65 5.65 0 1 0 -11.3 0zM1391.55 538.7a5.65 5.65 0 1 0 11.3 0a5.65 5.65 0 1 0 -11.3 0zM1398.05 542.4a5.65 5.65 0 1 0 11.3 0a5.65 5.65 0 1 0 -11.3 0zM1404.55 541.3a5.65 5.65 0 1 0 11.3 0a5.65 5.65 0 1 0 -11.3 0zM1411.05 535.9a5.65 5.65 0 1 0 11.3 0a5.65 5.65 0 1 0 -11.3 0zM1425.25 540.2a5.65 5.65 0 1 0 11.3 0a5.65 5.65 0 1 0 -11.3 0zM1431.75 543.5a5.65 5.65 0 1 0 11.3 0a5.65 5.65 0 1 0 -11.3 0zM1438.25 541.3a5.65 5.65 0 1 0 11.3 0a5.65 5.65 0 1 0 -11.3 0zM1418.25 544.6a5.65 5.65 0 1 0 11.3 0a5.65 5.65 0 1 0 -11.3 0zM1404.55 552.2a5.65 5.65 0 1 0 11.3 0a5.65 5.65 0 1 0 -11.3 0zM1438.25 555.4a5.65 5.65 0 1 0 11.3 0a5.65 5.65 0 1 0 -11.3 0zM1385.05 562a5.65 5.65 0 1 0 11.3 0a5.65 5.65 0 1 0 -11.3 0zM1398.05 563a5.65 5.65 0 1 0 11.3 0a5.65 5.65 0 1 0 -11.3 0zM1431.75 563a5.65 5.65 0 1 0 11.3 0a5.65 5.65 0 1 0 -11.3 0zM1377.35 567.4a5.65 5.65 0 1 0 11.3 0a5.65 5.65 0 1 0 -11.3 0zM1385.05 572.8a5.65 5.65 0 1 0 11.3 0a5.65 5.65 0 1 0 -11.3 0zM1391.55 569.6a5.65 5.65 0 1 0 11.3 0a5.65 5.65 0 1 0 -11.3 0zM1404.55 566.3a5.65 5.65 0 1 0 11.3 0a5.65 5.65 0 1 0 -11.3 0zM1411.05 568.5a5.65 5.65 0 1 0 11.3 0a5.65 5.65 0 1 0 -11.3 0zM1418.25 570.7a5.65 5.65 0 1 0 11.3 0a5.65 5.65 0 1 0 -11.3 0zM1438.25 567.4a5.65 5.65 0 1 0 11.3 0a5.65 5.65 0 1 0 -11.3 0zM1444.75 568.5a5.65 5.65 0 1 0 11.3 0a5.65 5.65 0 1 0 -11.3 0zM1451.35 572.8a5.65 5.65 0 1 0 11.3 0a5.65 5.65 0 1 0 -11.3 0zM1458.95 571.7a5.65 5.65 0 1 0 11.3 0a5.65 5.65 0 1 0 -11.3 0zM1404.55 577.2a5.65 5.65 0 1 0 11.3 0a5.65 5.65 0 1 0 -11.3 0zM1425.25 578.3a5.65 5.65 0 1 0 11.3 0a5.65 5.65 0 1 0 -11.3 0zM1431.75 577.2a5.65 5.65 0 1 0 11.3 0a5.65 5.65 0 1 0 -11.3 0zM1411.05 584.8a5.65 5.65 0 1 0 11.3 0a5.65 5.65 0 1 0 -11.3 0zM1418.25 585.9a5.65 5.65 0 1 0 11.3 0a5.65 5.65 0 1 0 -11.3 0zM1404.55 591.3a5.65 5.65 0 1 0 11.3 0a5.65 5.65 0 1 0 -11.3 0zM1411.05 596.7a5.65 5.65 0 1 0 11.3 0a5.65 5.65 0 1 0 -11.3 0zM1418.25 598.3a5.65 5.65 0 1 0 11.3 0a5.65 5.65 0 1 0 -11.3 0zM1425.25 597.4a5.65 5.65 0 1 0 11.3 0a5.65 5.65 0 1 0 -11.3 0zM1431.75 595.7a5.65 5.65 0 1 0 11.3 0a5.65 5.65 0 1 0 -11.3 0zM1404.55 604.3a5.65 5.65 0 1 0 11.3 0a5.65 5.65 0 1 0 -11.3 0zM1431.75 608.3a5.65 5.65 0 1 0 11.3 0a5.65 5.65 0 1 0 -11.3 0z" fill="#000"/>
<path d="M1554.35 479.15h11.5v11.5h-11.5zM1554.35 610.65h11.5v11.5h-11.5zM1515.13 549.35h11.5v11.5h-11.5zM1520.88 529.46h11.5v11.5h-11.5zM1521.06 549.17h11.5v11.5h-11.5zM1521.13 554.96h11.5v11.5h-11.5zM1525.77 529.14h11.5v11.5h-11.5zM1526.21 533.2h11.5v11.5h-11.5zM1526.29 550.05h11.5v11.5h-11.5zM1526.41 556.43h11.5v11.5h-11.5zM1525.89 561.08h11.5v11.5h-11.5zM1525.79 564.92h11.5v11.5h-11.5zM1526.62 571.25h11.5v11.5h-11.5zM1525.86 577.24h11.5v11.5h-11.5zM1525.88 582.94h11.5v11.5h-11.5zM1526.41 589.35h11.5v11.5h-11.5zM1532.08 526.9h11.5v11.5h-11.5zM1531.76 532.66h11.5v11.5h-11.5zM1532.32 537.71h11.5v11.5h-11.5zM1531.56 542.21h11.5v11.5h-11.5zM1531.63 547.99h11.5v11.5h-11.5zM1531.68 554.43h11.5v11.5h-11.5zM1531.73 560.95h11.5v11.5h-11.5zM1532.1 567.36h11.5v11.5h-11.5zM1531.56 573.28h11.5v11.5h-11.5zM1531.38 577.43h11.5v11.5h-11.5zM1532.02 581.64h11.5v11.5h-11.5zM1531.59 585.48h11.5v11.5h-11.5zM1531.51 590.89h11.5v11.5h-11.5zM1537.95 512.53h11.5v11.5h-11.5zM1537.66 518.03h11.5v11.5h-11.5zM1537.45 523.4h11.5v11.5h-11.5zM1537.84 530.07h11.5v11.5h-11.5zM1536.98 536.27h11.5v11.5h-11.5zM1537.89 541.75h11.5v11.5h-11.5zM1537.46 547.38h11.5v11.5h-11.5zM1537.13 553.05h11.5v11.5h-11.5zM1537.73 558.96h11.5v11.5h-11.5zM1537.46 562.82h11.5v11.5h-11.5zM1537.3 568.32h11.5v11.5h-11.5zM1537.87 574.09h11.5v11.5h-11.5zM1537.26 580.55h11.5v11.5h-11.5zM1537.8 584.67h11.5v11.5h-11.5zM1537.78 590.22h11.5v11.5h-11.5zM1537.23 596.57h11.5v11.5h-11.5zM1543.35 503.98h11.5v11.5h-11.5zM1542.79 509.77h11.5v11.5h-11.5zM1543.14 514.97h11.5v11.5h-11.5zM1542.73 519.34h11.5v11.5h-11.5zM1542.62 524.46h11.5v11.5h-11.5zM1543.49 529.65h11.5v11.5h-11.5zM1542.6 535.86h11.5v11.5h-11.5zM1543.27 542.08h11.5v11.5h-11.5zM1542.58 547.93h11.5v11.5h-11.5zM1542.75 553.94h11.5v11.5h-11.5zM1542.87 560.09h11.5v11.5h-11.5zM1542.72 564.87h11.5v11.5h-11.5zM1542.77 571.22h11.5v11.5h-11.5zM1543.06 577.58h11.5v11.5h-11.5zM1543.21 581.68h11.5v11.5h-11.5zM1542.58 586.98h11.5v11.5h-11.5zM1542.82 593.19h11.5v11.5h-11.5zM1543.32 596.9h11.5v11.5h-11.5zM1548.34 507.01h11.5v11.5h-11.5zM1548.74 512.29h11.5v11.5h-11.5zM1548.64 518.08h11.5v11.5h-11.5zM1548.87 523.49h11.5v11.5h-11.5zM1548.33 527.72h11.5v11.5h-11.5zM1548.9 532.88h11.5v11.5h-11.5zM1549 539.02h11.5v11.5h-11.5zM1548.86 544.03h11.5v11.5h-11.5zM1548.54 548h11.5v11.5h-11.5zM1548.99 551.85h11.5v11.5h-11.5zM1548.82 558.61h11.5v11.5h-11.5zM1548.52 564.6h11.5v11.5h-11.5zM1548.24 570.72h11.5v11.5h-11.5zM1548.5 575.51h11.5v11.5h-11.5zM1548.32 581.85h11.5v11.5h-11.5zM1548.24 585.99h11.5v11.5h-11.5zM1548.47 592.26h11.5v11.5h-11.5zM1554.59 504.03h11.5v11.5h-11.5zM1554.65 508.28h11.5v11.5h-11.5zM1554.63 514.95h11.5v11.5h-11.5zM1554.65 520.75h11.5v11.5h-11.5zM1554.71 527.24h11.5v11.5h-11.5zM1554.6 531.74h11.5v11.5h-11.5zM1554.1 537.82h11.5v11.5h-11.5zM1554.65 541.98h11.5v11.5h-11.5zM1554.28 547.1h11.5v11.5h-11.5zM1554.23 553.5h11.5v11.5h-11.5zM1554.44 557.93h11.5v11.5h-11.5zM1554.02 563.23h11.5v11.5h-11.5zM1554.65 569.03h11.5v11.5h-11.5zM1554.56 573.44h11.5v11.5h-11.5zM1554.27 579.43h11.5v11.5h-11.5zM1554.41 583.67h11.5v11.5h-11.5zM1554 588.19h11.5v11.5h-11.5zM1554.02 594.49h11.5v11.5h-11.5zM1560.34 509.4h11.5v11.5h-11.5zM1559.75 513.99h11.5v11.5h-11.5zM1560.1 519.33h11.5v11.5h-11.5zM1560 523.01h11.5v11.5h-11.5zM1560.28 527.38h11.5v11.5h-11.5zM1560.29 532.31h11.5v11.5h-11.5zM1560.01 537.35h11.5v11.5h-11.5zM1559.55 541.11h11.5v11.5h-11.5zM1559.72 545.68h11.5v11.5h-11.5zM1559.77 549.86h11.5v11.5h-11.5zM1559.92 553.77h11.5v11.5h-11.5zM1560.21 560.42h11.5v11.5h-11.5zM1560.33 566h11.5v11.5h-11.5zM1559.98 571.91h11.5v11.5h-11.5zM1559.43 576.98h11.5v11.5h-11.5zM1560.25 583.4h11.5v11.5h-11.5zM1560.04 589.55h11.5v11.5h-11.5zM1560.31 595.73h11.5v11.5h-11.5zM1564.97 506.4h11.5v11.5h-11.5zM1565.52 513h11.5v11.5h-11.5zM1565.38 518.05h11.5v11.5h-11.5zM1564.98 522.53h11.5v11.5h-11.5zM1565.57 528.1h11.5v11.5h-11.5zM1565.87 532.01h11.5v11.5h-11.5zM1565.81 538.47h11.5v11.5h-11.5zM1565.33 543.79h11.5v11.5h-11.5zM1565.32 548.9h11.5v11.5h-11.5zM1565.87 555.52h11.5v11.5h-11.5zM1565.47 561.96h11.5v11.5h-11.5zM1565.64 567.19h11.5v11.5h-11.5zM1565.13 571.74h11.5v11.5h-11.5zM1565.22 578.45h11.5v11.5h-11.5zM1565.44 582.93h11.5v11.5h-11.5zM1565.47 586.85h11.5v11.5h-11.5zM1565.78 590.99h11.5v11.5h-11.5zM1565.75 594.88h11.5v11.5h-11.5zM1571.51 515.24h11.5v11.5h-11.5zM1571.53 519.42h11.5v11.5h-11.5zM1570.9 523.52h11.5v11.5h-11.5zM1571.04 527.19h11.5v11.5h-11.5zM1571.11 531.08h11.5v11.5h-11.5zM1571.33 537.63h11.5v11.5h-11.5zM1570.64 543.29h11.5v11.5h-11.5zM1570.91 550.01h11.5v11.5h-11.5zM1570.7 556.61h11.5v11.5h-11.5zM1571.5 561.19h11.5v11.5h-11.5zM1570.74 567.16h11.5v11.5h-11.5zM1571.09 572.22h11.5v11.5h-11.5zM1570.77 576.65h11.5v11.5h-11.5zM1571.06 580.55h11.5v11.5h-11.5zM1570.9 585.49h11.5v11.5h-11.5zM1570.9 590.63h11.5v11.5h-11.5zM1577.1 528.13h11.5v11.5h-11.5zM1577.07 534.32h11.5v11.5h-11.5zM1576.44 547.39h11.5v11.5h-11.5zM1576.39 551.84h11.5v11.5h-11.5zM1577.09 556.52h11.5v11.5h-11.5zM1577.05 561.77h11.5v11.5h-11.5zM1576.9 567.05h11.5v11.5h-11.5zM1576.74 572.78h11.5v11.5h-11.5zM1576.74 579.31h11.5v11.5h-11.5zM1576.38 584.52h11.5v11.5h-11.5zM1576.58 588.47h11.5v11.5h-11.5zM1582.15 532.33h11.5v11.5h-11.5zM1582.15 549.16h11.5v11.5h-11.5zM1582.59 554.15h11.5v11.5h-11.5zM1582.65 558.74h11.5v11.5h-11.5zM1582.43 562.96h11.5v11.5h-11.5zM1581.78 568.57h11.5v11.5h-11.5zM1582.59 573.23h11.5v11.5h-11.5zM1581.81 578.12h11.5v11.5h-11.5zM1582.29 583.23h11.5v11.5h-11.5zM1582.17 588.33h11.5v11.5h-11.5zM1587.44 531.32h11.5v11.5h-11.5zM1588.01 551.09h11.5v11.5h-11.5zM1587.38 556.67h11.5v11.5h-11.5zM1593.94 550.28h11.5v11.5h-11.5zM1555.8 502.4h11.5v11.5h-11.5zM1554.01 597.6h11.5v11.5h-11.5z" fill="#000"/>
<path d="M1700.4 495.2L1706.4 507.2L1694.4 507.2zM1692.3 499.8L1698.3 511.8L1686.3 511.8zM1690 610L1696 622L1684 622zM1658.4 557.56L1664.4 569.56L1652.4 569.56zM1658.34 564.43L1664.34 576.43L1652.34 576.43zM1665.11 515.69L1671.11 527.69L1659.11 527.69zM1664.81 545.87L1670.81 557.87L1658.81 557.87zM1665.55 551.58L1671.55 563.58L1659.55 563.58zM1664.51 558.07L1670.51 570.07L1658.51 570.07zM1665.42 563.53L1671.42 575.53L1659.42 575.53zM1671.16 513.23L1677.16 525.23L1665.16 525.23zM1671.24 521.85L1677.24 533.85L1665.24 533.85zM1671.19 530.61L1677.19 542.61L1665.19 542.61zM1670.55 538.69L1676.55 550.69L1664.55 550.69zM1670.85 544.72L1676.85 556.72L1664.85 556.72zM1670.78 550.1L1676.78 562.1L1664.78 562.1zM1670.83 555.58L1676.83 567.58L1664.83 567.58zM1670.94 563.37L1676.94 575.37L1664.94 575.37zM1677.47 515.33L1683.47 527.33L1671.47 527.33zM1677.06 521.08L1683.06 533.08L1671.06 533.08zM1677.37 530.39L1683.37 542.39L1671.37 542.39zM1677.42 537.84L1683.42 549.84L1671.42 549.84zM1677.53 546.52L1683.53 558.52L1671.53 558.52zM1676.64 552.55L1682.64 564.55L1670.64 564.55zM1676.92 558.95L1682.92 570.95L1670.92 570.95zM1677.73 564.9L1683.73 576.9L1671.73 576.9zM1683.02 513.8L1689.02 525.8L1677.02 525.8zM1683.37 519.91L1689.37 531.91L1677.37 531.91zM1683.4 526.08L1689.4 538.08L1677.4 538.08zM1683.18 535L1689.18 547L1677.18 547zM1683.9 540.99L1689.9 552.99L1677.9 552.99zM1682.81 548.23L1688.81 560.23L1676.81 560.23zM1682.83 553.47L1688.83 565.47L1676.83 565.47zM1683.65 561.23L1689.65 573.23L1677.65 573.23zM1682.78 568.09L1688.78 580.09L1676.78 580.09zM1683.9 574.78L1689.9 586.78L1677.9 586.78zM1683.87 582.1L1689.87 594.1L1677.87 594.1zM1682.71 590.86L1688.71 602.86L1676.71 602.86zM1689.12 517.97L1695.12 529.97L1683.12 529.97zM1688.93 525.78L1694.93 537.78L1682.93 537.78zM1689.34 532.69L1695.34 544.69L1683.34 544.69zM1689.85 541.85L1695.85 553.85L1683.85 553.85zM1689.4 548.03L1695.4 560.03L1683.4 560.03zM1689.9 553.84L1695.9 565.84L1683.9 565.84zM1689.16 562.64L1695.16 574.64L1683.16 574.64zM1689.53 570.44L1695.53 582.44L1683.53 582.44zM1689.72 576.14L1695.72 588.14L1683.72 588.14zM1689.73 583.51L1695.73 595.51L1683.73 595.51zM1688.8 590.85L1694.8 602.85L1682.8 602.85zM1688.82 597.29L1694.82 609.29L1682.82 609.29zM1695.9 516.83L1701.9 528.83L1689.9 528.83zM1694.97 523.2L1700.97 535.2L1688.97 535.2zM1696.04 532.03L1702.04 544.03L1690.04 544.03zM1695.48 537.44L1701.48 549.44L1689.48 549.44zM1695.81 542.78L1701.81 554.78L1689.81 554.78zM1695.05 551.13L1701.05 563.13L1689.05 563.13zM1695.56 558.22L1701.56 570.22L1689.56 570.22zM1695.95 564.4L1701.95 576.4L1689.95 576.4zM1695.15 571.27L1701.15 583.27L1689.15 583.27zM1695.78 578.64L1701.78 590.64L1689.78 590.64zM1695.27 584.55L1701.27 596.55L1689.27 596.55zM1695.68 593.89L1701.68 605.89L1689.68 605.89zM1695.52 600.82L1701.52 612.82L1689.52 612.82zM1701.41 515.72L1707.41 527.72L1695.41 527.72zM1701.28 523.3L1707.28 535.3L1695.28 535.3zM1701.09 529.29L1707.09 541.29L1695.09 541.29zM1701.27 537.06L1707.27 549.06L1695.27 549.06zM1702.03 546.01L1708.03 558.01L1696.03 558.01zM1701.29 551.35L1707.29 563.35L1695.29 563.35zM1701.26 559.28L1707.26 571.28L1695.26 571.28zM1702.12 564.9L1708.12 576.9L1696.12 576.9zM1701.57 572.4L1707.57 584.4L1695.57 584.4zM1701.97 580.83L1707.97 592.83L1695.97 592.83zM1701.12 586.7L1707.12 598.7L1695.12 598.7zM1701.51 593.6L1707.51 605.6L1695.51 605.6zM1701.87 600.65L1707.87 612.65L1695.87 612.65zM1707.22 517.59L1713.22 529.59L1701.22 529.59zM1707.51 524.37L1713.51 536.37L1701.51 536.37zM1707.4 533.13L1713.4 545.13L1701.4 545.13zM1707.64 538.99L1713.64 550.99L1701.64 550.99zM1707.43 545.85L1713.43 557.85L1701.43 557.85zM1708.21 551.97L1714.21 563.97L1702.21 563.97zM1708.13 558.93L1714.13 570.93L1702.13 570.93zM1707.16 566.34L1713.16 578.34L1701.16 578.34zM1708.1 575.7L1714.1 587.7L1702.1 587.7zM1708.21 584.93L1714.21 596.93L1702.21 596.93zM1713.68 515.64L1719.68 527.64L1707.68 527.64zM1713.65 520.93L1719.65 532.93L1707.65 532.93zM1713.52 530.23L1719.52 542.23L1707.52 542.23zM1713.75 538.66L1719.75 550.66L1707.75 550.66zM1714.35 545.52L1720.35 557.52L1708.35 557.52zM1713.87 554.86L1719.87 566.86L1707.87 566.86zM1713.39 563.01L1719.39 575.01L1707.39 575.01zM1714.36 569.33L1720.36 581.33L1708.36 581.33zM1713.85 576.87L1719.85 588.87L1707.85 588.87zM1713.27 585.14L1719.27 597.14L1707.27 597.14zM1720.45 511.63L1726.45 523.63L1714.45 523.63zM1719.52 517.02L1725.52 529.02L1713.52 529.02zM1720.11 524.63L1726.11 536.63L1714.11 536.63zM1719.44 530.69L1725.44 542.69L1713.44 542.69zM1719.6 539.57L1725.6 551.57L1713.6 551.57zM1720.04 547.18L1726.04 559.18L1714.04 559.18zM1720 554.03L1726 566.03L1714 566.03zM1720.42 561.33L1726.42 573.33L1714.42 573.33zM1720.16 567.25L1726.16 579.25L1714.16 579.25zM1725.95 514.62L1731.95 526.62L1719.95 526.62zM1726.52 550.82L1732.52 562.82L1720.52 562.82zM1726.46 559.67L1732.46 571.67L1720.46 571.67zM1725.59 566.3L1731.59 578.3L1719.59 578.3zM1731.63 553.62L1737.63 565.62L1725.63 565.62zM1731.83 561.05L1737.83 573.05L1725.83 573.05zM1738.53 552.91L1744.53 564.91L1732.53 564.91zM1737.91 560.71L1743.91 572.71L1731.91 572.71zM1696.1 510.5L1702.1 522.5L1690.1 522.5zM1696.13 603L1702.13 615L1690.13 615z" fill="#000"/>
<path d="M1380.5 1052.8V965H1468V1052.8" fill="none" stroke="#262626" stroke-width="3.5" stroke-linejoin="miter"/>
<path d="M1517.45 1052.8V982.7H1604.05V1052.8" fill="none" stroke="#a0a0a0" stroke-width="3.9" stroke-linejoin="miter"/>
<path d="M1654.2 1052.8V973.95H1739.8V1052.8" fill="none" stroke="#7a7a7a" stroke-width="3.9" stroke-linejoin="miter"/>
<line x1="1356.5" y1="778.3" x2="1356.5" y2="1054.67" stroke="#000" stroke-width="3.75"/>
<line x1="1348.5" y1="1052.8" x2="1766.8" y2="1052.8" stroke="#000" stroke-width="3.75"/>
<line x1="1348.5" y1="780.5" x2="1356.5" y2="780.5" stroke="#000" stroke-width="3.75"/>
<text x="0" y="0" font-size="27" font-weight="bold" text-anchor="end" transform="translate(1344.3 789.77) scale(0.9800 1.0000)">1.0</text>
<line x1="1348.5" y1="835.3" x2="1356.5" y2="835.3" stroke="#000" stroke-width="3.75"/>
<text x="0" y="0" font-size="27" font-weight="bold" text-anchor="end" transform="translate(1344.3 844.57) scale(0.9800 1.0000)">0.8</text>
<line x1="1348.5" y1="889.6" x2="1356.5" y2="889.6" stroke="#000" stroke-width="3.75"/>
<text x="0" y="0" font-size="27" font-weight="bold" text-anchor="end" transform="translate(1344.3 898.87) scale(0.9800 1.0000)">0.6</text>
<line x1="1348.5" y1="943.9" x2="1356.5" y2="943.9" stroke="#000" stroke-width="3.75"/>
<text x="0" y="0" font-size="27" font-weight="bold" text-anchor="end" transform="translate(1344.3 953.17) scale(0.9800 1.0000)">0.4</text>
<line x1="1348.5" y1="998.3" x2="1356.5" y2="998.3" stroke="#000" stroke-width="3.75"/>
<text x="0" y="0" font-size="27" font-weight="bold" text-anchor="end" transform="translate(1344.3 1007.57) scale(0.9800 1.0000)">0.2</text>
<line x1="1348.5" y1="1052.8" x2="1356.5" y2="1052.8" stroke="#000" stroke-width="3.75"/>
<text x="0" y="0" font-size="27" font-weight="bold" text-anchor="end" transform="translate(1344.3 1062.07) scale(0.9800 1.0000)">0.0</text>
<line x1="1424.25" y1="1052.8" x2="1424.25" y2="1061.8" stroke="#000" stroke-width="3.75"/>
<text x="0" y="0" font-size="24.7" font-weight="bold" text-anchor="middle" transform="translate(1424.25 1086.3) scale(1.0700 1.0000)">Control</text>
<line x1="1560.5" y1="1052.8" x2="1560.5" y2="1061.8" stroke="#000" stroke-width="3.75"/>
<text x="0" y="0" font-size="24.7" font-weight="bold" text-anchor="middle" transform="translate(1560.5 1086.3) scale(1.0700 1.0000)">Day 6</text>
<line x1="1696.75" y1="1052.8" x2="1696.75" y2="1061.8" stroke="#000" stroke-width="3.75"/>
<text x="0" y="0" font-size="24.7" font-weight="bold" text-anchor="middle" transform="translate(1696.75 1086.3) scale(1.0700 1.0000)">Day 10</text>
<text x="1275.8" y="912.3" font-size="26" font-weight="bold" text-anchor="middle" transform="rotate(-90 1275.8 912.3)">time to bl 75% (s)</text>
<path d="M1424.3 786.5V775.5H1697.3V786.5" fill="none" stroke="#000" stroke-width="3.7" stroke-linejoin="miter"/>
<text x="0" y="0" font-size="24" font-weight="bold" text-anchor="middle" transform="translate(1556.6 770.8) scale(1.0700 1.0000)">ns</text>
<path d="M1424.3 811V801.3H1560.5V811" fill="none" stroke="#000" stroke-width="3.7" stroke-linejoin="miter"/>
<text x="0" y="0" font-size="24" font-weight="bold" text-anchor="middle" transform="translate(1492.1 795) scale(1.0700 1.0000)">ns</text>
<path d="M1560.5 840V829.3H1697.3V840" fill="none" stroke="#000" stroke-width="3.7" stroke-linejoin="miter"/>
<text x="0" y="0" font-size="24" font-weight="bold" text-anchor="middle" transform="translate(1627.9 822.5) scale(1.0700 1.0000)">ns</text>
<path d="M1418.25 836.1a5.65 5.65 0 1 0 11.3 0a5.65 5.65 0 1 0 -11.3 0zM1418.25 859.1a5.65 5.65 0 1 0 11.3 0a5.65 5.65 0 1 0 -11.3 0zM1418.25 880.2a5.65 5.65 0 1 0 11.3 0a5.65 5.65 0 1 0 -11.3 0zM1428.45 908.9a5.65 5.65 0 1 0 11.3 0a5.65 5.65 0 1 0 -11.3 0zM1421.95 911.7a5.65 5.65 0 1 0 11.3 0a5.65 5.65 0 1 0 -11.3 0zM1409.55 912.8a5.65 5.65 0 1 0 11.3 0a5.65 5.65 0 1 0 -11.3 0zM1403.05 920.9a5.65 5.65 0 1 0 11.3 0a5.65 5.65 0 1 0 -11.3 0zM1409.55 925.9a5.65 5.65 0 1 0 11.3 0a5.65 5.65 0 1 0 -11.3 0zM1416.05 929.1a5.65 5.65 0 1 0 11.3 0a5.65 5.65 0 1 0 -11.3 0zM1421.95 928a5.65 5.65 0 1 0 11.3 0a5.65 5.65 0 1 0 -11.3 0zM1428.45 925.9a5.65 5.65 0 1 0 11.3 0a5.65 5.65 0 1 0 -11.3 0zM1428.45 944.3a5.65 5.65 0 1 0 11.3 0a5.65 5.65 0 1 0 -11.3 0zM1403.05 946.5a5.65 5.65 0 1 0 11.3 0a5.65 5.65 0 1 0 -11.3 0zM1416.05 948.7a5.65 5.65 0 1 0 11.3 0a5.65 5.65 0 1 0 -11.3 0zM1390.45 955.2a5.65 5.65 0 1 0 11.3 0a5.65 5.65 0 1 0 -11.3 0zM1396.95 958.5a5.65 5.65 0 1 0 11.3 0a5.65 5.65 0 1 0 -11.3 0zM1409.55 956.3a5.65 5.65 0 1 0 11.3 0a5.65 5.65 0 1 0 -11.3 0zM1421.95 955.2a5.65 5.65 0 1 0 11.3 0a5.65 5.65 0 1 0 -11.3 0zM1428.45 958.5a5.65 5.65 0 1 0 11.3 0a5.65 5.65 0 1 0 -11.3 0zM1435.05 958.5a5.65 5.65 0 1 0 11.3 0a5.65 5.65 0 1 0 -11.3 0zM1440.45 959.6a5.65 5.65 0 1 0 11.3 0a5.65 5.65 0 1 0 -11.3 0zM1416.05 960.7a5.65 5.65 0 1 0 11.3 0a5.65 5.65 0 1 0 -11.3 0zM1409.55 965a5.65 5.65 0 1 0 11.3 0a5.65 5.65 0 1 0 -11.3 0zM1446.95 968.3a5.65 5.65 0 1 0 11.3 0a5.65 5.65 0 1 0 -11.3 0zM1403.05 971.5a5.65 5.65 0 1 0 11.3 0a5.65 5.65 0 1 0 -11.3 0zM1416.05 980.2a5.65 5.65 0 1 0 11.3 0a5.65 5.65 0 1 0 -11.3 0zM1428.45 979.8a5.65 5.65 0 1 0 11.3 0a5.65 5.65 0 1 0 -11.3 0zM1378.45 988.9a5.65 5.65 0 1 0 11.3 0a5.65 5.65 0 1 0 -11.3 0zM1385.05 984.6a5.65 5.65 0 1 0 11.3 0a5.65 5.65 0 1 0 -11.3 0zM1390.45 982.4a5.65 5.65 0 1 0 11.3 0a5.65 5.65 0 1 0 -11.3 0zM1396.95 985.7a5.65 5.65 0 1 0 11.3 0a5.65 5.65 0 1 0 -11.3 0zM1403.05 988.9a5.65 5.65 0 1 0 11.3 0a5.65 5.65 0 1 0 -11.3 0zM1409.55 990a5.65 5.65 0 1 0 11.3 0a5.65 5.65 0 1 0 -11.3 0zM1416.05 991.5a5.65 5.65 0 1 0 11.3 0a5.65 5.65 0 1 0 -11.3 0zM1421.95 992.2a5.65 5.65 0 1 0 11.3 0a5.65 5.65 0 1 0 -11.3 0zM1428.45 992.2a5.65 5.65 0 1 0 11.3 0a5.65 5.65 0 1 0 -11.3 0zM1435.05 992.2a5.65 5.65 0 1 0 11.3 0a5.65 5.65 0 1 0 -11.3 0zM1440.45 990.7a5.65 5.65 0 1 0 11.3 0a5.65 5.65 0 1 0 -11.3 0zM1446.95 988.9a5.65 5.65 0 1 0 11.3 0a5.65 5.65 0 1 0 -11.3 0zM1453.05 984.6a5.65 5.65 0 1 0 11.3 0a5.65 5.65 0 1 0 -11.3 0zM1459.55 985.7a5.65 5.65 0 1 0 11.3 0a5.65 5.65 0 1 0 -11.3 0zM1396.95 997.2a5.65 5.65 0 1 0 11.3 0a5.65 5.65 0 1 0 -11.3 0zM1409.55 1004.1a5.65 5.65 0 1 0 11.3 0a5.65 5.65 0 1 0 -11.3 0zM1421.95 1003.7a5.65 5.65 0 1 0 11.3 0a5.65 5.65 0 1 0 -11.3 0zM1416.05 1010.7a5.65 5.65 0 1 0 11.3 0a5.65 5.65 0 1 0 -11.3 0zM1428.45 1016.1a5.65 5.65 0 1 0 11.3 0a5.65 5.65 0 1 0 -11.3 0zM1409.55 1021.1a5.65 5.65 0 1 0 11.3 0a5.65 5.65 0 1 0 -11.3 0zM1421.95 1021.5a5.65 5.65 0 1 0 11.3 0a5.65 5.65 0 1 0 -11.3 0z" fill="#000"/>
<path d="M1555.05 864.75h11.5v11.5h-11.5zM1555.05 882.35h11.5v11.5h-11.5zM1554.55 902.25h11.5v11.5h-11.5zM1557.25 911.35h11.5v11.5h-11.5zM1516.28 951.65h11.5v11.5h-11.5zM1515.98 974.46h11.5v11.5h-11.5zM1515.71 979.93h11.5v11.5h-11.5zM1515.75 986.68h11.5v11.5h-11.5zM1516.2 993.39h11.5v11.5h-11.5zM1515.61 997.11h11.5v11.5h-11.5zM1521.39 949.39h11.5v11.5h-11.5zM1521.77 973.93h11.5v11.5h-11.5zM1521.77 980.15h11.5v11.5h-11.5zM1521.12 985.64h11.5v11.5h-11.5zM1521.41 992.36h11.5v11.5h-11.5zM1521.38 996.05h11.5v11.5h-11.5zM1527.2 945.86h11.5v11.5h-11.5zM1527.38 952.56h11.5v11.5h-11.5zM1527.55 958.66h11.5v11.5h-11.5zM1527.19 965.2h11.5v11.5h-11.5zM1527.07 970.53h11.5v11.5h-11.5zM1527.48 976.71h11.5v11.5h-11.5zM1527.39 982.94h11.5v11.5h-11.5zM1526.97 986.66h11.5v11.5h-11.5zM1527.14 990.57h11.5v11.5h-11.5zM1527.11 996.02h11.5v11.5h-11.5zM1526.77 1002.34h11.5v11.5h-11.5zM1532.7 945.38h11.5v11.5h-11.5zM1532.44 951.79h11.5v11.5h-11.5zM1532.3 956.93h11.5v11.5h-11.5zM1532.57 962.57h11.5v11.5h-11.5zM1532.26 968.65h11.5v11.5h-11.5zM1533.11 973.74h11.5v11.5h-11.5zM1532.81 977.42h11.5v11.5h-11.5zM1532.88 983.17h11.5v11.5h-11.5zM1532.65 988.55h11.5v11.5h-11.5zM1532.43 995.18h11.5v11.5h-11.5zM1532.82 1001.02h11.5v11.5h-11.5zM1538.74 929.17h11.5v11.5h-11.5zM1538.15 935.23h11.5v11.5h-11.5zM1538.14 941.55h11.5v11.5h-11.5zM1538.32 946.18h11.5v11.5h-11.5zM1538.44 951.86h11.5v11.5h-11.5zM1538.16 957.23h11.5v11.5h-11.5zM1538.07 963.18h11.5v11.5h-11.5zM1537.76 968.72h11.5v11.5h-11.5zM1538.62 972.76h11.5v11.5h-11.5zM1538.16 977.08h11.5v11.5h-11.5zM1538.52 980.88h11.5v11.5h-11.5zM1537.8 985.55h11.5v11.5h-11.5zM1538.68 990.04h11.5v11.5h-11.5zM1537.75 996.04h11.5v11.5h-11.5zM1537.82 1002.65h11.5v11.5h-11.5zM1544.09 931.29h11.5v11.5h-11.5zM1543.94 937.82h11.5v11.5h-11.5zM1544.02 941.46h11.5v11.5h-11.5zM1544.08 946.46h11.5v11.5h-11.5zM1543.46 952.55h11.5v11.5h-11.5zM1543.99 957.96h11.5v11.5h-11.5zM1543.96 964.49h11.5v11.5h-11.5zM1544.12 970.05h11.5v11.5h-11.5zM1544.21 974.19h11.5v11.5h-11.5zM1543.99 979.64h11.5v11.5h-11.5zM1543.87 983.76h11.5v11.5h-11.5zM1543.56 988.68h11.5v11.5h-11.5zM1544.2 995.26h11.5v11.5h-11.5zM1543.43 1000.33h11.5v11.5h-11.5zM1543.47 1007.04h11.5v11.5h-11.5zM1549.55 928.51h11.5v11.5h-11.5zM1549.93 933.75h11.5v11.5h-11.5zM1549.31 939.95h11.5v11.5h-11.5zM1549.9 946.07h11.5v11.5h-11.5zM1549.03 951.23h11.5v11.5h-11.5zM1549.92 955.08h11.5v11.5h-11.5zM1549.75 959.36h11.5v11.5h-11.5zM1549.17 963.61h11.5v11.5h-11.5zM1549.77 967.75h11.5v11.5h-11.5zM1549.42 971.67h11.5v11.5h-11.5zM1549.48 977.84h11.5v11.5h-11.5zM1548.97 981.51h11.5v11.5h-11.5zM1549.25 987.74h11.5v11.5h-11.5zM1549.48 991.64h11.5v11.5h-11.5zM1549.25 997.73h11.5v11.5h-11.5zM1549.14 1001.78h11.5v11.5h-11.5zM1549.73 1006.9h11.5v11.5h-11.5zM1549.71 1010.8h11.5v11.5h-11.5zM1549.51 1016.57h11.5v11.5h-11.5zM1548.98 1021.4h11.5v11.5h-11.5zM1555.23 924.64h11.5v11.5h-11.5zM1554.72 928.47h11.5v11.5h-11.5zM1555.04 932.17h11.5v11.5h-11.5zM1555.08 936h11.5v11.5h-11.5zM1554.88 941h11.5v11.5h-11.5zM1555.47 945.23h11.5v11.5h-11.5zM1554.65 950.37h11.5v11.5h-11.5zM1555.31 955.82h11.5v11.5h-11.5zM1555.44 960.98h11.5v11.5h-11.5zM1555.23 967.24h11.5v11.5h-11.5zM1554.95 970.96h11.5v11.5h-11.5zM1554.72 976.19h11.5v11.5h-11.5zM1555.22 981.39h11.5v11.5h-11.5zM1555.31 987.38h11.5v11.5h-11.5zM1554.85 993.35h11.5v11.5h-11.5zM1555.05 998.9h11.5v11.5h-11.5zM1554.67 1004.91h11.5v11.5h-11.5zM1555.27 1009.1h11.5v11.5h-11.5zM1554.78 1014.99h11.5v11.5h-11.5zM1560.61 928.46h11.5v11.5h-11.5zM1560.38 932.28h11.5v11.5h-11.5zM1561.08 938.31h11.5v11.5h-11.5zM1560.19 942.46h11.5v11.5h-11.5zM1561.09 947.19h11.5v11.5h-11.5zM1561.08 951.51h11.5v11.5h-11.5zM1560.99 957.59h11.5v11.5h-11.5zM1560.83 964.33h11.5v11.5h-11.5zM1560.58 968.58h11.5v11.5h-11.5zM1560.81 973.46h11.5v11.5h-11.5zM1560.88 978.2h11.5v11.5h-11.5zM1560.37 981.94h11.5v11.5h-11.5zM1560.32 986.27h11.5v11.5h-11.5zM1561.03 992.25h11.5v11.5h-11.5zM1560.63 996.18h11.5v11.5h-11.5zM1560.4 999.85h11.5v11.5h-11.5zM1560.84 1003.94h11.5v11.5h-11.5zM1560.99 1010.19h11.5v11.5h-11.5zM1560.56 1014.69h11.5v11.5h-11.5zM1566.22 929.72h11.5v11.5h-11.5zM1566.62 935.08h11.5v11.5h-11.5zM1566.02 941.6h11.5v11.5h-11.5zM1566.02 947.51h11.5v11.5h-11.5zM1566.6 951.18h11.5v11.5h-11.5zM1566.03 955.42h11.5v11.5h-11.5zM1566.6 961.3h11.5v11.5h-11.5zM1566.47 966.15h11.5v11.5h-11.5zM1565.77 971.03h11.5v11.5h-11.5zM1565.92 976.39h11.5v11.5h-11.5zM1566.16 980.69h11.5v11.5h-11.5zM1565.97 986.34h11.5v11.5h-11.5zM1566.32 990.66h11.5v11.5h-11.5zM1566.31 995.15h11.5v11.5h-11.5zM1566.06 1000.9h11.5v11.5h-11.5zM1566.72 1007.34h11.5v11.5h-11.5zM1565.82 1011.1h11.5v11.5h-11.5zM1572.34 928.91h11.5v11.5h-11.5zM1571.62 933.96h11.5v11.5h-11.5zM1572.26 938.29h11.5v11.5h-11.5zM1572.23 944.47h11.5v11.5h-11.5zM1571.8 951.23h11.5v11.5h-11.5zM1571.69 957.2h11.5v11.5h-11.5zM1572.04 961.28h11.5v11.5h-11.5zM1571.89 966.08h11.5v11.5h-11.5zM1571.59 971.49h11.5v11.5h-11.5zM1572.09 975.2h11.5v11.5h-11.5zM1572.11 981.21h11.5v11.5h-11.5zM1571.68 985.87h11.5v11.5h-11.5zM1571.72 991.47h11.5v11.5h-11.5zM1571.87 997.43h11.5v11.5h-11.5zM1572.2 1002.72h11.5v11.5h-11.5zM1571.56 1006.73h11.5v11.5h-11.5zM1577.13 944.7h11.5v11.5h-11.5zM1577.77 948.82h11.5v11.5h-11.5zM1577.92 954.09h11.5v11.5h-11.5zM1577.71 959.68h11.5v11.5h-11.5zM1577.5 966.23h11.5v11.5h-11.5zM1577.36 970.59h11.5v11.5h-11.5zM1577.11 975.61h11.5v11.5h-11.5zM1577.72 980.97h11.5v11.5h-11.5zM1576.98 985.63h11.5v11.5h-11.5zM1577.31 989.59h11.5v11.5h-11.5zM1577.42 993.85h11.5v11.5h-11.5zM1577.18 1000.51h11.5v11.5h-11.5zM1583.36 945.27h11.5v11.5h-11.5zM1582.74 951.88h11.5v11.5h-11.5zM1583.15 958.41h11.5v11.5h-11.5zM1582.78 964.36h11.5v11.5h-11.5zM1583.03 968.15h11.5v11.5h-11.5zM1582.8 974.85h11.5v11.5h-11.5zM1583.53 981.56h11.5v11.5h-11.5zM1583 986.67h11.5v11.5h-11.5zM1582.58 993.25h11.5v11.5h-11.5zM1582.72 998.7h11.5v11.5h-11.5zM1589.06 946.78h11.5v11.5h-11.5zM1588.82 952.89h11.5v11.5h-11.5zM1588.8 974.78h11.5v11.5h-11.5zM1589 979.33h11.5v11.5h-11.5zM1588.16 985.05h11.5v11.5h-11.5zM1588.89 991.61h11.5v11.5h-11.5zM1588.23 997.53h11.5v11.5h-11.5zM1594.03 949.69h11.5v11.5h-11.5zM1593.84 953.6h11.5v11.5h-11.5zM1594.66 974.18h11.5v11.5h-11.5zM1594.53 979.72h11.5v11.5h-11.5zM1593.87 986.08h11.5v11.5h-11.5zM1594.56 989.88h11.5v11.5h-11.5zM1594.22 994.36h11.5v11.5h-11.5zM1556.65 922.5h11.5v11.5h-11.5zM1550.05 1022.5h11.5v11.5h-11.5z" fill="#000"/>
<path d="M1697.6 777L1703.6 789L1691.6 789zM1697.2 883L1703.2 895L1691.2 895zM1695 909.3L1701 921.3L1689 921.3zM1699.9 909.3L1705.9 921.3L1693.9 921.3zM1691.9 1028L1697.9 1040L1685.9 1040zM1662.88 968.85L1668.88 980.85L1656.88 980.85zM1662.94 976.52L1668.94 988.52L1656.94 988.52zM1667.63 963.71L1673.63 975.71L1661.63 975.71zM1668.39 968.06L1674.39 980.06L1662.39 980.06zM1668.15 974.37L1674.15 986.37L1662.15 986.37zM1667.75 979.35L1673.75 991.35L1661.75 991.35zM1674.38 953.16L1680.38 965.16L1668.38 965.16zM1674.54 959.19L1680.54 971.19L1668.54 971.19zM1673.69 966.55L1679.69 978.55L1667.69 978.55zM1674.42 973.44L1680.42 985.44L1668.42 985.44zM1674.48 980.58L1680.48 992.58L1668.48 992.58zM1679.82 942.51L1685.82 954.51L1673.82 954.51zM1680.09 947.43L1686.09 959.43L1674.09 959.43zM1679.8 954.03L1685.8 966.03L1673.8 966.03zM1679.38 960.87L1685.38 972.87L1673.38 972.87zM1679.26 966.92L1685.26 978.92L1673.26 978.92zM1680.15 973.29L1686.15 985.29L1674.15 985.29zM1680.03 978.21L1686.03 990.21L1674.03 990.21zM1679.59 986.24L1685.59 998.24L1673.59 998.24zM1686.02 933.5L1692.02 945.5L1680.02 945.5zM1685.66 938.55L1691.66 950.55L1679.66 950.55zM1686.05 944.07L1692.05 956.07L1680.05 956.07zM1685.2 949.51L1691.2 961.51L1679.2 961.51zM1685.1 955.36L1691.1 967.36L1679.1 967.36zM1685.84 960.53L1691.84 972.53L1679.84 972.53zM1685.22 966.09L1691.22 978.09L1679.22 978.09zM1685.31 973.9L1691.31 985.9L1679.31 985.9zM1685.82 981.2L1691.82 993.2L1679.82 993.2zM1685.78 987.61L1691.78 999.61L1679.78 999.61zM1686.01 994.11L1692.01 1006.11L1680.01 1006.11zM1685.32 1001.03L1691.32 1013.03L1679.32 1013.03zM1691.96 933.9L1697.96 945.9L1685.96 945.9zM1691.67 938.49L1697.67 950.49L1685.67 950.49zM1691.53 946.18L1697.53 958.18L1685.53 958.18zM1691.73 950.73L1697.73 962.73L1685.73 962.73zM1691.42 956.05L1697.42 968.05L1685.42 968.05zM1691.18 963.43L1697.18 975.43L1685.18 975.43zM1690.94 968.68L1696.94 980.68L1684.94 980.68zM1690.92 974.3L1696.92 986.3L1684.92 986.3zM1691.8 981.22L1697.8 993.22L1685.8 993.22zM1691.43 985.77L1697.43 997.77L1685.43 997.77zM1691.73 993.05L1697.73 1005.05L1685.73 1005.05zM1691.44 998.38L1697.44 1010.38L1685.44 1010.38zM1691.42 1005.26L1697.42 1017.26L1685.42 1017.26zM1691.89 1013.31L1697.89 1025.31L1685.89 1025.31zM1697.31 928.15L1703.31 940.15L1691.31 940.15zM1696.92 934.65L1702.92 946.65L1690.92 946.65zM1697.54 939.89L1703.54 951.89L1691.54 951.89zM1696.62 947.19L1702.62 959.19L1690.62 959.19zM1697.46 951.99L1703.46 963.99L1691.46 963.99zM1696.78 957.9L1702.78 969.9L1690.78 969.9zM1697 965.77L1703 977.77L1691 977.77zM1697.09 970.4L1703.09 982.4L1691.09 982.4zM1697.38 976.25L1703.38 988.25L1691.38 988.25zM1696.7 983.44L1702.7 995.44L1690.7 995.44zM1697.68 989.53L1703.68 1001.53L1691.68 1001.53zM1697.67 995.68L1703.67 1007.68L1691.67 1007.68zM1697.57 1003.37L1703.57 1015.37L1691.57 1015.37zM1696.73 1010.13L1702.73 1022.13L1690.73 1022.13zM1696.96 1018.13L1702.96 1030.13L1690.96 1030.13zM1703.04 934.22L1709.04 946.22L1697.04 946.22zM1703.05 941.43L1709.05 953.43L1697.05 953.43zM1703.34 949.2L1709.34 961.2L1697.34 961.2zM1702.73 955.94L1708.73 967.94L1696.73 967.94zM1703 962.65L1709 974.65L1697 974.65zM1702.73 969.81L1708.73 981.81L1696.73 981.81zM1703.26 977.1L1709.26 989.1L1697.26 989.1zM1703.53 982.11L1709.53 994.11L1697.53 994.11zM1702.93 988.25L1708.93 1000.25L1696.93 1000.25zM1702.86 993.85L1708.86 1005.85L1696.86 1005.85zM1703.51 1001.17L1709.51 1013.17L1697.51 1013.17zM1703.04 1007.25L1709.04 1019.25L1697.04 1019.25zM1702.55 1013.34L1708.55 1025.34L1696.55 1025.34zM1708.56 933.37L1714.56 945.37L1702.56 945.37zM1708.41 940.64L1714.41 952.64L1702.41 952.64zM1709.28 945.56L1715.28 957.56L1703.28 957.56zM1709.32 951.04L1715.32 963.04L1703.32 963.04zM1708.31 955.41L1714.31 967.41L1702.31 967.41zM1708.67 960.54L1714.67 972.54L1702.67 972.54zM1708.59 966.88L1714.59 978.88L1702.59 978.88zM1709.33 974.8L1715.33 986.8L1703.33 986.8zM1709.38 981.26L1715.38 993.26L1703.38 993.26zM1709.37 988.8L1715.37 1000.8L1703.37 1000.8zM1708.33 995.32L1714.33 1007.32L1702.33 1007.32zM1708.26 1001.77L1714.26 1013.77L1702.26 1013.77zM1709.39 1007.64L1715.39 1019.64L1703.39 1019.64zM1714.62 941.26L1720.62 953.26L1708.62 953.26zM1714.94 946.06L1720.94 958.06L1708.94 958.06zM1714.39 952.81L1720.39 964.81L1708.39 964.81zM1715.02 958.76L1721.02 970.76L1709.02 970.76zM1714.26 963.28L1720.26 975.28L1708.26 975.28zM1714.95 969.95L1720.95 981.95L1708.95 981.95zM1714.76 976.31L1720.76 988.31L1708.76 988.31zM1714.68 980.69L1720.68 992.69L1708.68 992.69zM1720.21 953.91L1726.21 965.91L1714.21 965.91zM1720.89 961.03L1726.89 973.03L1714.89 973.03zM1719.84 965.61L1725.84 977.61L1713.84 977.61zM1720.66 971.57L1726.66 983.57L1714.66 983.57zM1720.37 977.86L1726.37 989.86L1714.37 989.86zM1725.6 967.31L1731.6 979.31L1719.6 979.31zM1726.23 974.45L1732.23 986.45L1720.23 986.45zM1725.64 981.17L1731.64 993.17L1719.64 993.17zM1732.57 973.53L1738.57 985.53L1726.57 985.53zM1731.6 981.17L1737.6 993.17L1725.6 993.17zM1738.17 977L1744.17 989L1732.17 989zM1696.78 928L1702.78 940L1690.78 940zM1698.76 1022L1704.76 1034L1692.76 1034z" fill="#000"/>
</svg>
</body></html>
